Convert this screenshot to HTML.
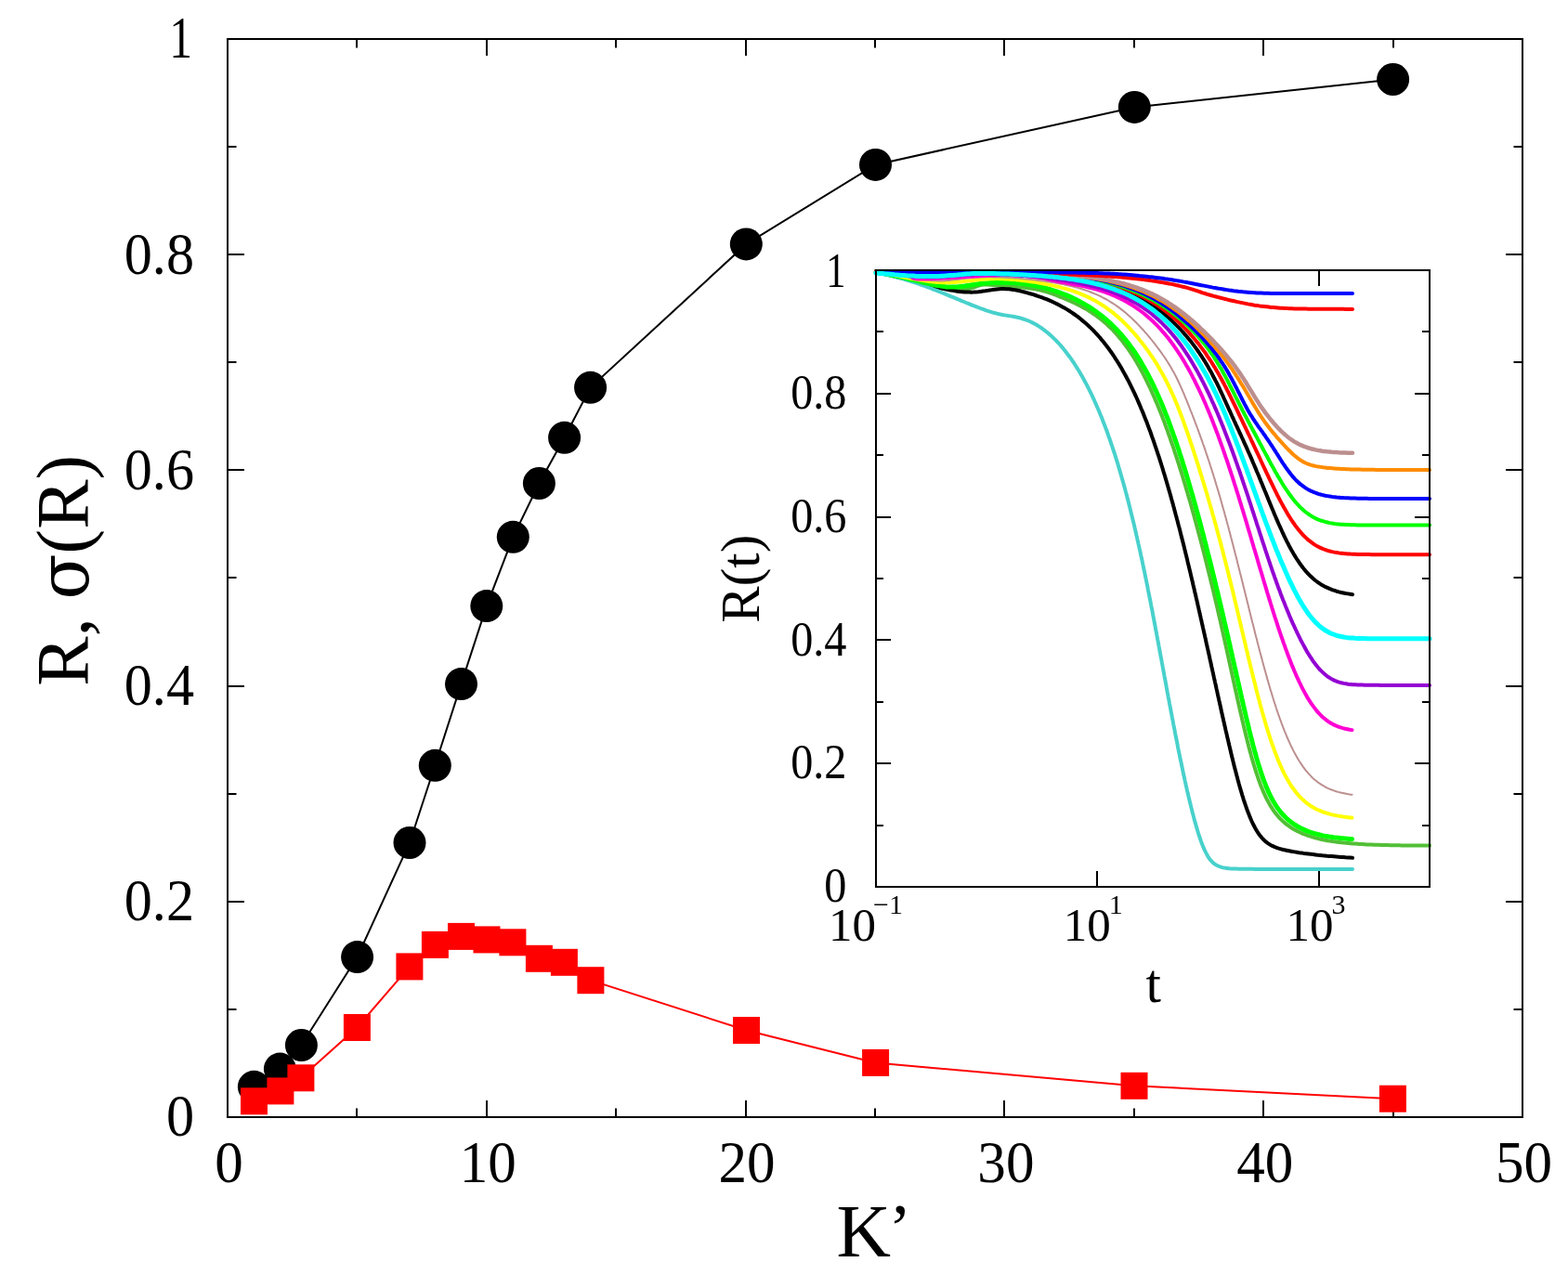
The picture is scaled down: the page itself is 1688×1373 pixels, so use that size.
<!DOCTYPE html><html><head><meta charset="utf-8"><style>html,body{margin:0;padding:0;background:#fff}svg{display:block}</style></head><body>
<svg width="1688" height="1373" viewBox="0 0 1688 1373">
<rect width="100%" height="100%" fill="#fff"/>
<path d="M384 1203v-9.5M384 42v9.5M524 1203v-18M524 42v18M663 1203v-9.5M663 42v9.5M803 1203v-18M803 42v18M942 1203v-9.5M942 42v9.5M1081 1203v-18M1081 42v18M1221 1203v-9.5M1221 42v9.5M1360 1203v-18M1360 42v18M1500 1203v-9.5M1500 42v9.5M245 1087h9.5M1639 1087h-9.5M245 971h18M1639 971h-18M245 855h9.5M1639 855h-9.5M245 739h18M1639 739h-18M245 622h9.5M1639 622h-9.5M245 506h18M1639 506h-18M245 390h9.5M1639 390h-9.5M245 274h18M1639 274h-18M245 158h9.5M1639 158h-9.5" stroke="#000" stroke-width="2" fill="none"/>
<polyline points="273.5,1185.8 301.9,1174.9 323.9,1160.8 384.4,1106.5 440.9,1040.9 468.4,1017.4 496.5,1008.4 524.0,1011.9 551.9,1014.8 580.4,1032.3 607.4,1036.3 635.9,1055.7 803.5,1109.5 942.6,1144.4 1221.0,1169.3 1499.4,1183.2" fill="none" stroke="#f00" stroke-width="2"/>
<polyline points="273.4,1170.3 301.4,1151.1 324.4,1125.5 384.6,1030.6 441.0,907.5 468.3,824.3 496.5,736.6 523.8,652.6 552.3,578.3 580.4,520.5 607.6,471.3 635.6,417.3 803.3,262.9 942.5,177.4 1221.3,115.4 1499.6,85.5" fill="none" stroke="#000" stroke-width="2"/>
<circle cx="273.4" cy="1170.3" r="17.5" fill="#000"/>
<circle cx="301.4" cy="1151.1" r="17.5" fill="#000"/>
<circle cx="324.4" cy="1125.5" r="17.5" fill="#000"/>
<circle cx="384.6" cy="1030.6" r="17.5" fill="#000"/>
<circle cx="441.0" cy="907.5" r="17.5" fill="#000"/>
<circle cx="468.3" cy="824.3" r="17.5" fill="#000"/>
<circle cx="496.5" cy="736.6" r="17.5" fill="#000"/>
<circle cx="523.8" cy="652.6" r="17.5" fill="#000"/>
<circle cx="552.3" cy="578.3" r="17.5" fill="#000"/>
<circle cx="580.4" cy="520.5" r="17.5" fill="#000"/>
<circle cx="607.6" cy="471.3" r="17.5" fill="#000"/>
<circle cx="635.6" cy="417.3" r="17.5" fill="#000"/>
<circle cx="803.3" cy="262.9" r="17.5" fill="#000"/>
<circle cx="942.5" cy="177.4" r="17.5" fill="#000"/>
<circle cx="1221.3" cy="115.4" r="17.5" fill="#000"/>
<circle cx="1499.6" cy="85.5" r="17.5" fill="#000"/>
<rect x="259.0" y="1171.3" width="29" height="29" fill="#f00"/>
<rect x="287.4" y="1160.4" width="29" height="29" fill="#f00"/>
<rect x="309.4" y="1146.3" width="29" height="29" fill="#f00"/>
<rect x="369.9" y="1092.0" width="29" height="29" fill="#f00"/>
<rect x="426.4" y="1026.4" width="29" height="29" fill="#f00"/>
<rect x="453.9" y="1002.9" width="29" height="29" fill="#f00"/>
<rect x="482.0" y="993.9" width="29" height="29" fill="#f00"/>
<rect x="509.5" y="997.4" width="29" height="29" fill="#f00"/>
<rect x="537.4" y="1000.3" width="29" height="29" fill="#f00"/>
<rect x="565.9" y="1017.8" width="29" height="29" fill="#f00"/>
<rect x="592.9" y="1021.8" width="29" height="29" fill="#f00"/>
<rect x="621.4" y="1041.2" width="29" height="29" fill="#f00"/>
<rect x="789.0" y="1095.0" width="29" height="29" fill="#f00"/>
<rect x="928.1" y="1129.9" width="29" height="29" fill="#f00"/>
<rect x="1206.5" y="1154.8" width="29" height="29" fill="#f00"/>
<rect x="1484.9" y="1168.7" width="29" height="29" fill="#f00"/>
<rect x="245" y="42" width="1394" height="1161" fill="none" stroke="#000" stroke-width="2"/>
<text transform="translate(246.5 1273.3) scale(0.97 1)" font-size="63" text-anchor="middle" font-family="Liberation Serif, Times New Roman, serif">0</text>
<text transform="translate(525.3 1273.3) scale(0.97 1)" font-size="63" text-anchor="middle" font-family="Liberation Serif, Times New Roman, serif">10</text>
<text transform="translate(804.1 1273.3) scale(0.97 1)" font-size="63" text-anchor="middle" font-family="Liberation Serif, Times New Roman, serif">20</text>
<text transform="translate(1082.9 1273.3) scale(0.97 1)" font-size="63" text-anchor="middle" font-family="Liberation Serif, Times New Roman, serif">30</text>
<text transform="translate(1361.7 1273.3) scale(0.97 1)" font-size="63" text-anchor="middle" font-family="Liberation Serif, Times New Roman, serif">40</text>
<text transform="translate(1640.5 1273.3) scale(0.97 1)" font-size="63" text-anchor="middle" font-family="Liberation Serif, Times New Roman, serif">50</text>
<text transform="translate(209 1223.4) scale(0.956 1)" font-size="63" text-anchor="end" font-family="Liberation Serif, Times New Roman, serif">0</text>
<text transform="translate(209 991.2) scale(0.956 1)" font-size="63" text-anchor="end" font-family="Liberation Serif, Times New Roman, serif">0.2</text>
<text transform="translate(209 759.0) scale(0.956 1)" font-size="63" text-anchor="end" font-family="Liberation Serif, Times New Roman, serif">0.4</text>
<text transform="translate(209 526.8) scale(0.956 1)" font-size="63" text-anchor="end" font-family="Liberation Serif, Times New Roman, serif">0.6</text>
<text transform="translate(209 294.6) scale(0.956 1)" font-size="63" text-anchor="end" font-family="Liberation Serif, Times New Roman, serif">0.8</text>
<text transform="translate(207.1 62.4) scale(0.786 1)" font-size="63" text-anchor="end" font-family="Liberation Serif, Times New Roman, serif">1</text>
<text x="900.6" y="1353" font-size="81" font-family="Liberation Serif, Times New Roman, serif">K<tspan dx="-2.6" dy="-4.9" font-size="74">’</tspan></text>
<g transform="translate(94.8 738.7) rotate(-90)"><text x="0" y="0" font-size="80" font-family="Liberation Serif, Times New Roman, serif">R, </text><text transform="translate(93.2 0) scale(0.945 1)" font-size="76" font-family="DejaVu Serif, Liberation Serif, serif">σ</text><text x="142.2" y="0" font-size="80" font-family="Liberation Serif, Times New Roman, serif">(R)</text></g>
<rect x="943" y="291" width="596" height="664" fill="#fff" stroke="none"/>
<path d="M1181 955v-17M1181 291v17M1420 955v-17M1420 291v17M943 889h8M1539 889h-8M943 822h16M1539 822h-16M943 756h8M1539 756h-8M943 689h16M1539 689h-16M943 623h8M1539 623h-8M943 557h16M1539 557h-16M943 490h8M1539 490h-8M943 424h16M1539 424h-16M943 357h8M1539 357h-8" stroke="#000" stroke-width="2" fill="none"/>
<defs><clipPath id="ic"><rect x="938" y="286" width="606" height="669"/></clipPath></defs><g clip-path="url(#ic)" fill="none" stroke-linejoin="round">
<path d="M943.0 293.1L945.5 293.6L947.9 294.1L950.4 294.5L952.8 295.0L955.3 295.6L957.7 296.1L960.2 296.6L962.6 297.1L965.0 297.7L967.5 298.2L969.9 298.8L972.4 299.3L974.8 299.9L977.2 300.5L979.7 301.0L982.1 301.6L984.6 302.2L987.0 302.7L989.4 303.3L991.9 303.8L994.3 304.3L996.8 304.9L999.2 305.4L1001.7 305.9L1004.1 306.4L1006.6 306.9L1009.0 307.3L1011.5 307.8L1014.0 308.2L1016.4 308.6L1018.9 309.0L1021.4 309.3L1023.9 309.7L1026.3 310.0L1028.8 310.3L1031.3 310.6L1033.8 310.8L1036.3 311.0L1038.8 311.0L1041.3 311.0L1043.8 310.7L1046.2 310.2L1048.6 309.5L1050.9 308.6L1053.3 307.7L1055.7 307.0L1058.2 306.6L1060.7 306.6L1063.2 306.6L1065.7 306.8L1068.2 306.9L1070.7 307.1L1073.2 307.3L1075.6 307.4L1078.1 307.6L1080.6 307.8L1083.1 308.0L1085.6 308.1L1088.1 308.3L1090.6 308.5L1093.1 308.8L1095.6 309.0L1098.1 309.2L1100.6 309.5L1103.1 309.8L1105.5 310.1L1108.0 310.4L1110.5 310.7L1113.0 311.1L1115.4 311.5L1117.9 312.0L1120.3 312.6L1122.8 313.2L1125.2 313.8L1127.6 314.6L1129.9 315.3L1132.3 316.2L1134.7 317.0L1137.0 317.9L1139.3 318.9L1141.6 319.8L1144.0 320.7L1146.3 321.7L1148.6 322.7L1150.9 323.7L1153.2 324.7L1155.4 325.7L1157.7 326.8L1159.9 327.9L1162.2 329.0L1164.4 330.2L1166.6 331.4L1168.7 332.6L1170.9 333.9L1173.0 335.2L1175.1 336.6L1177.2 338.0L1179.3 339.4L1181.3 340.9L1183.3 342.4L1185.3 343.9L1187.2 345.5L1189.1 347.1L1191.0 348.8L1192.8 350.5L1194.6 352.2L1196.4 353.9L1198.2 355.7L1199.9 357.6L1201.6 359.4L1203.2 361.3L1204.8 363.2L1206.4 365.1L1208.0 367.1L1209.5 369.0L1211.0 371.0L1212.5 373.1L1214.0 375.1L1215.4 377.1L1216.8 379.2L1218.2 381.3L1219.5 383.4L1220.9 385.5L1222.2 387.7L1223.5 389.8L1224.7 392.0L1226.0 394.1L1227.2 396.3L1228.4 398.5L1229.6 400.7L1230.7 402.9L1231.9 405.1L1233.0 407.4L1234.1 409.6L1235.2 411.9L1236.3 414.1L1237.4 416.4L1238.5 418.6L1239.5 420.9L1240.5 423.2L1241.5 425.5L1242.6 427.8L1243.5 430.1L1244.5 432.4L1245.5 434.7L1246.5 437.0L1247.4 439.3L1248.3 441.6L1249.3 444.0L1250.2 446.3L1251.1 448.6L1252.0 450.9L1252.9 453.3L1253.8 455.6L1254.6 458.0L1255.5 460.3L1256.4 462.7L1257.2 465.0L1258.0 467.4L1258.9 469.7L1259.7 472.1L1260.5 474.5L1261.3 476.8L1262.2 479.2L1263.0 481.6L1263.8 483.9L1264.5 486.3L1265.3 488.7L1266.1 491.1L1266.9 493.4L1267.6 495.8L1268.4 498.2L1269.2 500.6L1269.9 503.0L1270.7 505.4L1271.4 507.7L1272.2 510.1L1272.9 512.5L1273.6 514.9L1274.3 517.3L1275.1 519.7L1275.8 522.1L1276.5 524.5L1277.2 526.9L1277.9 529.3L1278.6 531.7L1279.3 534.1L1280.0 536.5L1280.7 538.9L1281.4 541.3L1282.1 543.7L1282.8 546.1L1283.4 548.5L1284.1 551.0L1284.8 553.4L1285.5 555.8L1286.1 558.2L1286.8 560.6L1287.4 563.0L1288.1 565.4L1288.7 567.8L1289.4 570.3L1290.0 572.7L1290.7 575.1L1291.3 577.5L1292.0 579.9L1292.6 582.3L1293.2 584.8L1293.9 587.2L1294.5 589.6L1295.1 592.0L1295.8 594.5L1296.4 596.9L1297.0 599.3L1297.6 601.7L1298.2 604.1L1298.8 606.6L1299.4 609.0L1300.0 611.4L1300.6 613.9L1301.2 616.3L1301.8 618.7L1302.4 621.1L1303.0 623.6L1303.6 626.0L1304.2 628.4L1304.8 630.9L1305.4 633.3L1306.0 635.7L1306.6 638.2L1307.1 640.6L1307.7 643.0L1308.3 645.5L1308.9 647.9L1309.4 650.3L1310.0 652.8L1310.6 655.2L1311.1 657.7L1311.7 660.1L1312.2 662.5L1312.8 665.0L1313.4 667.4L1313.9 669.8L1314.5 672.3L1315.0 674.7L1315.6 677.2L1316.1 679.6L1316.7 682.1L1317.2 684.5L1317.8 686.9L1318.3 689.4L1318.8 691.8L1319.4 694.3L1319.9 696.7L1320.5 699.1L1321.0 701.6L1321.5 704.0L1322.1 706.5L1322.6 708.9L1323.1 711.4L1323.7 713.8L1324.2 716.3L1324.7 718.7L1325.3 721.1L1325.8 723.6L1326.3 726.0L1326.9 728.5L1327.4 730.9L1327.9 733.4L1328.5 735.8L1329.0 738.3L1329.5 740.7L1330.1 743.1L1330.6 745.6L1331.2 748.0L1331.7 750.5L1332.2 752.9L1332.8 755.4L1333.3 757.8L1333.9 760.2L1334.4 762.7L1335.0 765.1L1335.5 767.6L1336.1 770.0L1336.7 772.4L1337.2 774.9L1337.8 777.3L1338.4 779.7L1338.9 782.2L1339.5 784.6L1340.1 787.0L1340.7 789.5L1341.3 791.9L1341.9 794.3L1342.5 796.8L1343.1 799.2L1343.7 801.6L1344.3 804.0L1345.0 806.5L1345.6 808.9L1346.3 811.3L1346.9 813.7L1347.6 816.1L1348.3 818.5L1349.0 820.9L1349.7 823.3L1350.4 825.7L1351.2 828.1L1351.9 830.5L1352.7 832.9L1353.5 835.2L1354.3 837.6L1355.1 840.0L1356.0 842.3L1356.8 844.7L1357.7 847.0L1358.7 849.3L1359.6 851.6L1360.6 853.9L1361.7 856.2L1362.7 858.5L1363.8 860.7L1365.0 862.9L1366.2 865.1L1367.4 867.3L1368.8 869.4L1370.1 871.5L1371.5 873.6L1373.0 875.6L1374.6 877.5L1376.2 879.4L1377.9 881.3L1379.7 883.1L1381.5 884.8L1383.4 886.4L1385.3 888.0L1387.4 889.4L1389.4 890.9L1391.5 892.2L1393.7 893.5L1395.9 894.6L1398.1 895.7L1400.4 896.8L1402.7 897.8L1405.0 898.7L1407.4 899.6L1409.8 900.4L1412.1 901.1L1414.5 901.8L1417.0 902.5L1419.4 903.1L1421.8 903.7L1424.3 904.2L1426.7 904.7L1429.2 905.2L1431.6 905.6L1434.1 906.0L1436.6 906.3L1439.1 906.7L1441.5 907.0L1444.0 907.3L1446.5 907.6L1449.0 907.8L1451.5 908.0L1454.0 908.2L1456.5 908.4L1459.0 908.6L1461.5 908.8L1464.0 909.0L1466.5 909.1L1469.0 909.2L1471.5 909.4L1474.0 909.5L1476.5 909.6L1479.0 909.7L1481.5 909.8L1484.0 909.8L1486.5 909.9L1489.0 910.0L1491.5 910.0L1494.0 910.1L1496.5 910.2L1499.0 910.2L1501.5 910.3L1504.0 910.3L1506.5 910.3L1509.0 910.4L1511.5 910.4L1514.0 910.4L1516.5 910.5L1519.0 910.5L1521.5 910.5L1524.0 910.5L1526.5 910.6L1529.0 910.6L1531.5 910.6L1534.0 910.6L1536.5 910.6L1539.0 910.6" stroke="#52bf36" stroke-width="4" stroke-linecap="round"/>
<path d="M943.0 293.1L945.5 293.6L947.9 294.1L950.3 294.7L952.8 295.2L955.2 295.8L957.7 296.3L960.1 296.9L962.5 297.5L965.0 298.1L967.4 298.7L969.8 299.3L972.3 299.9L974.7 300.5L977.1 301.2L979.5 301.8L982.0 302.4L984.4 303.1L986.8 303.7L989.2 304.4L991.6 305.0L994.1 305.6L996.5 306.3L998.9 306.9L1001.3 307.5L1003.8 308.1L1006.2 308.7L1008.6 309.3L1011.1 309.9L1013.5 310.5L1016.0 311.0L1018.4 311.5L1020.9 312.0L1023.3 312.5L1025.8 312.9L1028.3 313.3L1030.7 313.7L1033.2 314.0L1035.7 314.2L1038.2 314.4L1040.7 314.6L1043.2 314.6L1045.7 314.7L1048.2 314.6L1050.7 314.4L1053.2 314.2L1055.7 313.9L1058.2 313.6L1060.7 313.3L1063.1 312.9L1065.6 312.5L1068.1 312.1L1070.6 311.8L1073.1 311.5L1075.6 311.2L1078.1 311.1L1080.6 311.1L1083.1 311.2L1085.6 311.3L1088.0 311.6L1090.5 311.9L1093.0 312.3L1095.5 312.8L1097.9 313.3L1100.3 313.9L1102.8 314.5L1105.2 315.1L1107.6 315.8L1110.0 316.5L1112.4 317.2L1114.8 318.0L1117.2 318.8L1119.5 319.6L1121.9 320.4L1124.2 321.3L1126.6 322.2L1128.9 323.2L1131.2 324.2L1133.5 325.2L1135.7 326.3L1138.0 327.4L1140.2 328.5L1142.4 329.7L1144.6 330.9L1146.8 332.1L1148.9 333.4L1151.1 334.8L1153.2 336.1L1155.2 337.5L1157.3 339.0L1159.3 340.4L1161.3 341.9L1163.3 343.5L1165.2 345.1L1167.1 346.7L1169.0 348.3L1170.9 350.0L1172.7 351.7L1174.5 353.4L1176.3 355.2L1178.1 357.0L1179.8 358.8L1181.5 360.7L1183.1 362.5L1184.8 364.4L1186.4 366.4L1188.0 368.3L1189.5 370.2L1191.1 372.2L1192.6 374.2L1194.1 376.2L1195.5 378.3L1197.0 380.3L1198.4 382.4L1199.8 384.5L1201.1 386.6L1202.5 388.7L1203.8 390.8L1205.1 392.9L1206.4 395.1L1207.7 397.3L1208.9 399.4L1210.1 401.6L1211.3 403.8L1212.5 406.0L1213.7 408.2L1214.9 410.4L1216.0 412.7L1217.1 414.9L1218.2 417.2L1219.3 419.4L1220.4 421.7L1221.5 423.9L1222.5 426.2L1223.6 428.5L1224.6 430.8L1225.6 433.1L1226.6 435.4L1227.6 437.7L1228.5 440.0L1229.5 442.3L1230.5 444.6L1231.4 446.9L1232.3 449.3L1233.2 451.6L1234.2 453.9L1235.1 456.3L1235.9 458.6L1236.8 460.9L1237.7 463.3L1238.6 465.6L1239.4 468.0L1240.2 470.4L1241.1 472.7L1241.9 475.1L1242.7 477.4L1243.5 479.8L1244.3 482.2L1245.1 484.6L1245.9 486.9L1246.7 489.3L1247.5 491.7L1248.3 494.1L1249.0 496.5L1249.8 498.9L1250.5 501.2L1251.3 503.6L1252.0 506.0L1252.7 508.4L1253.5 510.8L1254.2 513.2L1254.9 515.6L1255.6 518.0L1256.3 520.4L1257.0 522.8L1257.7 525.2L1258.4 527.6L1259.1 530.0L1259.8 532.5L1260.5 534.9L1261.1 537.3L1261.8 539.7L1262.5 542.1L1263.1 544.5L1263.8 546.9L1264.4 549.4L1265.1 551.8L1265.7 554.2L1266.4 556.6L1267.0 559.0L1267.7 561.5L1268.3 563.9L1268.9 566.3L1269.6 568.7L1270.2 571.1L1270.8 573.6L1271.4 576.0L1272.0 578.4L1272.7 580.9L1273.3 583.3L1273.9 585.7L1274.5 588.1L1275.1 590.6L1275.7 593.0L1276.3 595.4L1276.9 597.9L1277.5 600.3L1278.1 602.7L1278.6 605.2L1279.2 607.6L1279.8 610.0L1280.4 612.5L1281.0 614.9L1281.6 617.3L1282.1 619.8L1282.7 622.2L1283.3 624.7L1283.9 627.1L1284.4 629.5L1285.0 632.0L1285.6 634.4L1286.1 636.9L1286.7 639.3L1287.3 641.7L1287.8 644.2L1288.4 646.6L1289.0 649.1L1289.5 651.5L1290.1 653.9L1290.6 656.4L1291.2 658.8L1291.7 661.3L1292.3 663.7L1292.8 666.2L1293.4 668.6L1293.9 671.0L1294.5 673.5L1295.0 675.9L1295.6 678.4L1296.1 680.8L1296.7 683.3L1297.2 685.7L1297.8 688.1L1298.3 690.6L1298.8 693.0L1299.4 695.5L1299.9 697.9L1300.5 700.4L1301.0 702.8L1301.6 705.3L1302.1 707.7L1302.6 710.2L1303.2 712.6L1303.7 715.0L1304.2 717.5L1304.8 719.9L1305.3 722.4L1305.9 724.8L1306.4 727.3L1306.9 729.7L1307.5 732.2L1308.0 734.6L1308.6 737.1L1309.1 739.5L1309.6 741.9L1310.2 744.4L1310.7 746.8L1311.2 749.3L1311.8 751.7L1312.3 754.2L1312.9 756.6L1313.4 759.1L1314.0 761.5L1314.5 764.0L1315.0 766.4L1315.6 768.8L1316.1 771.3L1316.7 773.7L1317.2 776.2L1317.8 778.6L1318.3 781.1L1318.9 783.5L1319.4 785.9L1320.0 788.4L1320.6 790.8L1321.1 793.3L1321.7 795.7L1322.3 798.1L1322.8 800.6L1323.4 803.0L1324.0 805.5L1324.6 807.9L1325.1 810.3L1325.7 812.8L1326.3 815.2L1326.9 817.6L1327.5 820.1L1328.1 822.5L1328.7 824.9L1329.3 827.4L1330.0 829.8L1330.6 832.2L1331.2 834.6L1331.9 837.0L1332.5 839.5L1333.2 841.9L1333.8 844.3L1334.5 846.7L1335.2 849.1L1335.9 851.5L1336.6 853.9L1337.3 856.3L1338.1 858.7L1338.8 861.1L1339.6 863.5L1340.4 865.9L1341.2 868.2L1342.0 870.6L1342.9 872.9L1343.8 875.3L1344.7 877.6L1345.6 879.9L1346.6 882.2L1347.6 884.5L1348.7 886.8L1349.8 889.0L1351.0 891.3L1352.2 893.4L1353.5 895.6L1354.9 897.7L1356.4 899.7L1357.9 901.6L1359.6 903.5L1361.4 905.2L1363.3 906.9L1365.3 908.3L1367.4 909.7L1369.7 910.9L1371.9 911.9L1374.3 912.8L1376.6 913.6L1379.0 914.3L1381.5 915.0L1383.9 915.5L1386.3 916.0L1388.8 916.5L1391.3 917.0L1393.7 917.4L1396.2 917.8L1398.7 918.2L1401.2 918.5L1403.6 918.9L1406.1 919.2L1408.6 919.5L1411.1 919.8L1413.6 920.1L1416.1 920.4L1418.6 920.7L1421.1 920.9L1423.5 921.2L1426.0 921.4L1428.5 921.7L1431.0 921.9L1433.5 922.1L1436.0 922.3L1438.5 922.5L1441.0 922.7L1443.5 922.9L1446.0 923.1L1448.5 923.3L1451.0 923.4L1453.5 923.6L1456.0 923.8" stroke="#000" stroke-width="4" stroke-linecap="round"/>
<path d="M943.0 293.4L945.5 293.9L947.9 294.4L950.4 294.9L952.8 295.4L955.3 296.0L957.7 296.5L960.1 297.1L962.6 297.7L965.0 298.3L967.4 299.0L969.8 299.7L972.2 300.3L974.6 301.0L977.0 301.8L979.4 302.5L981.8 303.3L984.2 304.1L986.6 304.9L988.9 305.7L991.3 306.5L993.6 307.3L996.0 308.2L998.3 309.1L1000.7 310.0L1003.0 310.9L1005.3 311.8L1007.7 312.7L1010.0 313.6L1012.3 314.5L1014.6 315.5L1017.0 316.4L1019.3 317.4L1021.6 318.3L1023.9 319.3L1026.2 320.2L1028.5 321.2L1030.9 322.2L1033.2 323.1L1035.5 324.1L1037.8 325.0L1040.1 326.0L1042.4 326.9L1044.8 327.8L1047.1 328.8L1049.4 329.7L1051.8 330.6L1054.1 331.5L1056.4 332.4L1058.8 333.2L1061.1 334.1L1063.5 334.9L1065.9 335.6L1068.3 336.4L1070.7 337.0L1073.1 337.6L1075.6 338.2L1078.0 338.7L1080.5 339.2L1083.0 339.6L1085.4 340.0L1087.9 340.4L1090.4 340.8L1092.8 341.2L1095.3 341.8L1097.7 342.3L1100.1 343.0L1102.5 343.8L1104.9 344.6L1107.2 345.5L1109.5 346.5L1111.7 347.6L1114.0 348.8L1116.1 350.0L1118.3 351.4L1120.4 352.7L1122.4 354.2L1124.4 355.6L1126.4 357.2L1128.3 358.8L1130.2 360.4L1132.1 362.1L1133.9 363.8L1135.7 365.6L1137.5 367.3L1139.2 369.2L1140.9 371.0L1142.5 372.9L1144.1 374.8L1145.7 376.7L1147.3 378.7L1148.8 380.7L1150.3 382.7L1151.8 384.7L1153.2 386.7L1154.7 388.8L1156.1 390.9L1157.4 393.0L1158.8 395.1L1160.1 397.2L1161.4 399.3L1162.7 401.5L1164.0 403.7L1165.2 405.8L1166.4 408.0L1167.6 410.2L1168.8 412.4L1170.0 414.6L1171.1 416.9L1172.3 419.1L1173.4 421.3L1174.5 423.6L1175.6 425.8L1176.6 428.1L1177.7 430.4L1178.7 432.7L1179.7 434.9L1180.7 437.2L1181.7 439.5L1182.7 441.8L1183.7 444.1L1184.6 446.5L1185.6 448.8L1186.5 451.1L1187.4 453.4L1188.3 455.8L1189.2 458.1L1190.1 460.4L1191.0 462.8L1191.9 465.1L1192.7 467.5L1193.5 469.9L1194.4 472.2L1195.2 474.6L1196.0 477.0L1196.8 479.3L1197.6 481.7L1198.4 484.1L1199.2 486.5L1200.0 488.8L1200.7 491.2L1201.5 493.6L1202.2 496.0L1203.0 498.4L1203.7 500.8L1204.4 503.2L1205.1 505.6L1205.8 508.0L1206.5 510.4L1207.2 512.8L1207.9 515.2L1208.6 517.6L1209.3 520.0L1209.9 522.4L1210.6 524.8L1211.3 527.3L1211.9 529.7L1212.6 532.1L1213.2 534.5L1213.8 536.9L1214.5 539.4L1215.1 541.8L1215.7 544.2L1216.3 546.6L1216.9 549.1L1217.5 551.5L1218.1 553.9L1218.7 556.4L1219.3 558.8L1219.9 561.2L1220.5 563.7L1221.1 566.1L1221.6 568.5L1222.2 571.0L1222.8 573.4L1223.3 575.9L1223.9 578.3L1224.4 580.7L1225.0 583.2L1225.5 585.6L1226.1 588.1L1226.6 590.5L1227.2 593.0L1227.7 595.4L1228.2 597.9L1228.8 600.3L1229.3 602.7L1229.8 605.2L1230.3 607.6L1230.8 610.1L1231.3 612.5L1231.9 615.0L1232.4 617.5L1232.9 619.9L1233.4 622.4L1233.9 624.8L1234.4 627.3L1234.9 629.7L1235.4 632.2L1235.8 634.6L1236.3 637.1L1236.8 639.5L1237.3 642.0L1237.8 644.5L1238.3 646.9L1238.8 649.4L1239.2 651.8L1239.7 654.3L1240.2 656.7L1240.7 659.2L1241.1 661.7L1241.6 664.1L1242.1 666.6L1242.5 669.0L1243.0 671.5L1243.5 674.0L1243.9 676.4L1244.4 678.9L1244.9 681.3L1245.3 683.8L1245.8 686.3L1246.2 688.7L1246.7 691.2L1247.2 693.6L1247.6 696.1L1248.1 698.6L1248.5 701.0L1249.0 703.5L1249.4 706.0L1249.9 708.4L1250.4 710.9L1250.8 713.3L1251.3 715.8L1251.7 718.3L1252.2 720.7L1252.6 723.2L1253.1 725.6L1253.5 728.1L1254.0 730.6L1254.5 733.0L1254.9 735.5L1255.4 738.0L1255.8 740.4L1256.3 742.9L1256.7 745.3L1257.2 747.8L1257.6 750.3L1258.1 752.7L1258.6 755.2L1259.0 757.6L1259.5 760.1L1260.0 762.6L1260.4 765.0L1260.9 767.5L1261.4 770.0L1261.8 772.4L1262.3 774.9L1262.8 777.3L1263.2 779.8L1263.7 782.2L1264.2 784.7L1264.7 787.2L1265.1 789.6L1265.6 792.1L1266.1 794.5L1266.6 797.0L1267.1 799.4L1267.6 801.9L1268.0 804.4L1268.5 806.8L1269.0 809.3L1269.5 811.7L1270.0 814.2L1270.5 816.6L1271.0 819.1L1271.6 821.5L1272.1 824.0L1272.6 826.4L1273.1 828.9L1273.6 831.3L1274.1 833.8L1274.7 836.2L1275.2 838.7L1275.7 841.1L1276.3 843.6L1276.8 846.0L1277.4 848.4L1277.9 850.9L1278.5 853.3L1279.1 855.8L1279.6 858.2L1280.2 860.6L1280.8 863.1L1281.4 865.5L1282.0 867.9L1282.6 870.4L1283.2 872.8L1283.8 875.2L1284.5 877.6L1285.1 880.1L1285.7 882.5L1286.4 884.9L1287.1 887.3L1287.8 889.7L1288.5 892.1L1289.2 894.5L1289.9 896.9L1290.7 899.3L1291.5 901.7L1292.3 904.0L1293.1 906.4L1294.0 908.7L1294.9 911.1L1295.9 913.4L1296.9 915.7L1298.0 917.9L1299.2 920.1L1300.4 922.3L1301.8 924.4L1303.4 926.4L1305.0 928.2L1306.9 929.9L1308.9 931.3L1311.2 932.5L1313.5 933.4L1315.9 934.1L1318.3 934.6L1320.8 934.9L1323.3 935.2L1325.8 935.4L1328.3 935.5L1330.8 935.6L1333.3 935.7L1335.8 935.7L1338.3 935.8L1340.8 935.8L1343.3 935.8L1345.8 935.8L1348.3 935.8L1350.8 935.9L1353.3 935.9L1355.8 935.9L1358.4 935.9L1360.9 935.9L1363.4 935.9L1365.9 935.9L1368.4 935.9L1370.9 935.9L1373.4 935.9L1375.9 935.9L1378.4 935.9L1380.9 935.9L1383.4 935.9L1385.9 935.9L1388.4 935.9L1390.9 935.9L1393.4 935.9L1395.9 935.9L1398.4 935.9L1400.9 935.9L1403.4 935.9L1405.9 935.9L1408.4 935.9L1410.9 935.9L1413.4 935.9L1415.9 935.9L1418.4 935.9L1420.9 935.9L1423.5 935.9L1426.0 935.9L1428.5 935.9L1431.0 935.9L1433.5 935.9L1436.0 935.9L1438.5 935.9L1441.0 935.9L1443.5 935.9L1446.0 935.9L1448.5 935.9L1451.0 935.9L1453.5 935.9L1456.0 935.9" stroke="#48d1cc" stroke-width="4" stroke-linecap="round"/>
<path d="M943.0 293.1L945.5 293.5L947.9 294.0L950.4 294.4L952.9 294.8L955.3 295.3L957.8 295.8L960.2 296.3L962.7 296.8L965.1 297.3L967.6 297.8L970.0 298.4L972.4 298.9L974.9 299.5L977.3 300.1L979.7 300.7L982.2 301.2L984.6 301.8L987.0 302.4L989.5 303.0L991.9 303.6L994.3 304.2L996.8 304.8L999.2 305.4L1001.6 305.9L1004.1 306.5L1006.5 307.0L1009.0 307.5L1011.4 307.9L1013.9 308.3L1016.4 308.6L1018.9 308.9L1021.4 309.0L1023.9 309.1L1026.4 309.1L1028.9 309.0L1031.4 308.8L1033.9 308.5L1036.3 308.2L1038.8 307.9L1041.3 307.5L1043.8 307.1L1046.2 306.7L1048.7 306.4L1051.2 306.0L1053.7 305.7L1056.1 305.4L1058.6 305.1L1061.1 304.9L1063.6 304.7L1066.1 304.6L1068.6 304.4L1071.1 304.3L1073.6 304.3L1076.1 304.2L1078.6 304.2L1081.1 304.2L1083.6 304.3L1086.1 304.4L1088.6 304.5L1091.1 304.6L1093.6 304.8L1096.1 305.1L1098.6 305.3L1101.1 305.6L1103.6 305.9L1106.0 306.2L1108.5 306.6L1111.0 307.0L1113.4 307.5L1115.9 308.0L1118.3 308.5L1120.8 309.1L1123.2 309.6L1125.6 310.3L1128.0 310.9L1130.4 311.6L1132.8 312.4L1135.2 313.1L1137.6 313.9L1139.9 314.7L1142.3 315.6L1144.6 316.5L1147.0 317.4L1149.3 318.4L1151.6 319.4L1153.8 320.4L1156.1 321.5L1158.3 322.6L1160.6 323.7L1162.8 324.9L1165.0 326.1L1167.2 327.3L1169.3 328.6L1171.5 329.9L1173.6 331.2L1175.7 332.6L1177.7 334.0L1179.8 335.4L1181.8 336.9L1183.8 338.4L1185.8 339.9L1187.7 341.5L1189.7 343.1L1191.6 344.7L1193.4 346.4L1195.3 348.0L1197.1 349.8L1198.9 351.5L1200.6 353.3L1202.4 355.1L1204.1 356.9L1205.8 358.8L1207.4 360.7L1209.0 362.6L1210.6 364.5L1212.2 366.4L1213.7 368.4L1215.3 370.4L1216.7 372.4L1218.2 374.4L1219.7 376.5L1221.1 378.5L1222.5 380.6L1223.8 382.7L1225.2 384.8L1226.5 386.9L1227.8 389.1L1229.1 391.2L1230.3 393.4L1231.6 395.6L1232.8 397.7L1234.0 399.9L1235.2 402.1L1236.4 404.3L1237.5 406.6L1238.6 408.8L1239.8 411.0L1240.9 413.3L1242.0 415.5L1243.0 417.8L1244.1 420.1L1245.1 422.3L1246.1 424.6L1247.2 426.9L1248.2 429.2L1249.2 431.5L1250.1 433.8L1251.1 436.1L1252.1 438.4L1253.0 440.7L1253.9 443.0L1254.8 445.4L1255.8 447.7L1256.7 450.0L1257.6 452.4L1258.4 454.7L1259.3 457.1L1260.2 459.4L1261.0 461.8L1261.9 464.1L1262.7 466.5L1263.5 468.8L1264.4 471.2L1265.2 473.6L1266.0 475.9L1266.8 478.3L1267.6 480.7L1268.4 483.0L1269.2 485.4L1269.9 487.8L1270.7 490.2L1271.5 492.5L1272.2 494.9L1273.0 497.3L1273.7 499.7L1274.5 502.1L1275.2 504.5L1275.9 506.9L1276.7 509.3L1277.4 511.7L1278.1 514.1L1278.8 516.5L1279.5 518.9L1280.2 521.3L1280.9 523.7L1281.6 526.1L1282.3 528.5L1283.0 530.9L1283.7 533.3L1284.4 535.7L1285.1 538.1L1285.7 540.5L1286.4 542.9L1287.1 545.3L1287.7 547.7L1288.4 550.1L1289.1 552.6L1289.7 555.0L1290.4 557.4L1291.0 559.8L1291.7 562.2L1292.3 564.6L1292.9 567.0L1293.6 569.5L1294.2 571.9L1294.9 574.3L1295.5 576.7L1296.1 579.1L1296.7 581.6L1297.4 584.0L1298.0 586.4L1298.6 588.8L1299.2 591.3L1299.8 593.7L1300.4 596.1L1301.1 598.5L1301.7 601.0L1302.3 603.4L1302.9 605.8L1303.5 608.2L1304.1 610.7L1304.7 613.1L1305.3 615.5L1305.9 618.0L1306.5 620.4L1307.1 622.8L1307.7 625.2L1308.2 627.7L1308.8 630.1L1309.4 632.5L1310.0 635.0L1310.6 637.4L1311.2 639.8L1311.8 642.3L1312.3 644.7L1312.9 647.1L1313.5 649.6L1314.1 652.0L1314.6 654.4L1315.2 656.9L1315.8 659.3L1316.3 661.7L1316.9 664.2L1317.5 666.6L1318.0 669.1L1318.6 671.5L1319.2 673.9L1319.7 676.4L1320.3 678.8L1320.9 681.2L1321.4 683.7L1322.0 686.1L1322.5 688.6L1323.1 691.0L1323.6 693.4L1324.2 695.9L1324.7 698.3L1325.3 700.8L1325.8 703.2L1326.4 705.6L1326.9 708.1L1327.5 710.5L1328.0 713.0L1328.6 715.4L1329.1 717.8L1329.7 720.3L1330.2 722.7L1330.8 725.2L1331.3 727.6L1331.9 730.0L1332.4 732.5L1333.0 734.9L1333.5 737.4L1334.1 739.8L1334.6 742.2L1335.2 744.7L1335.7 747.1L1336.3 749.6L1336.8 752.0L1337.4 754.4L1338.0 756.9L1338.5 759.3L1339.1 761.7L1339.6 764.2L1340.2 766.6L1340.8 769.1L1341.3 771.5L1341.9 773.9L1342.5 776.4L1343.1 778.8L1343.7 781.2L1344.2 783.7L1344.8 786.1L1345.4 788.5L1346.0 790.9L1346.6 793.4L1347.3 795.8L1347.9 798.2L1348.5 800.6L1349.1 803.1L1349.8 805.5L1350.4 807.9L1351.1 810.3L1351.8 812.7L1352.4 815.1L1353.1 817.5L1353.8 819.9L1354.5 822.3L1355.3 824.7L1356.0 827.1L1356.8 829.5L1357.6 831.9L1358.4 834.2L1359.2 836.6L1360.0 839.0L1360.9 841.3L1361.8 843.6L1362.7 846.0L1363.6 848.3L1364.6 850.6L1365.6 852.9L1366.7 855.1L1367.8 857.4L1368.9 859.6L1370.1 861.8L1371.4 864.0L1372.7 866.1L1374.0 868.2L1375.4 870.3L1376.9 872.3L1378.5 874.3L1380.1 876.2L1381.8 878.0L1383.5 879.8L1385.3 881.5L1387.2 883.2L1389.2 884.7L1391.2 886.2L1393.2 887.7L1395.3 889.0L1397.5 890.3L1399.7 891.5L1401.9 892.6L1404.2 893.6L1406.5 894.6L1408.8 895.5L1411.2 896.3L1413.6 897.1L1416.0 897.8L1418.4 898.4L1420.8 899.0L1423.3 899.6L1425.7 900.1L1428.2 900.5L1430.6 901.0L1433.1 901.3L1435.6 901.7L1438.1 902.0L1440.6 902.3L1443.0 902.6L1445.5 902.8L1448.0 903.0L1450.5 903.2L1453.0 903.4L1455.5 903.6" stroke="#00ff00" stroke-width="5" stroke-linecap="round"/>
<path d="M943.0 293.0L945.5 293.4L947.9 293.8L950.4 294.2L952.9 294.7L955.4 295.1L957.8 295.5L960.3 296.0L962.8 296.4L965.2 296.9L967.7 297.4L970.1 297.9L972.6 298.3L975.1 298.8L977.5 299.3L980.0 299.7L982.4 300.2L984.9 300.6L987.4 301.1L989.9 301.5L992.3 301.9L994.8 302.3L997.3 302.6L999.8 302.9L1002.3 303.2L1004.8 303.5L1007.2 303.7L1009.7 303.9L1012.2 304.1L1014.8 304.2L1017.3 304.2L1019.8 304.3L1022.3 304.2L1024.8 304.1L1027.3 304.0L1029.8 303.8L1032.3 303.6L1034.8 303.4L1037.3 303.1L1039.7 302.8L1042.2 302.5L1044.7 302.2L1047.2 301.9L1049.7 301.6L1052.2 301.3L1054.7 301.1L1057.2 300.8L1059.7 300.6L1062.2 300.4L1064.7 300.3L1067.2 300.2L1069.7 300.2L1072.2 300.1L1074.7 300.1L1077.2 300.2L1079.7 300.3L1082.2 300.4L1084.7 300.5L1087.2 300.7L1089.7 300.9L1092.2 301.1L1094.7 301.4L1097.2 301.6L1099.7 301.9L1102.2 302.2L1104.7 302.5L1107.1 302.8L1109.6 303.2L1112.1 303.5L1114.6 303.9L1117.1 304.3L1119.5 304.7L1122.0 305.2L1124.5 305.6L1126.9 306.1L1129.4 306.6L1131.8 307.1L1134.3 307.6L1136.7 308.2L1139.2 308.8L1141.6 309.4L1144.0 310.1L1146.4 310.7L1148.8 311.4L1151.2 312.2L1153.6 312.9L1156.0 313.7L1158.3 314.6L1160.7 315.4L1163.0 316.3L1165.4 317.3L1167.7 318.3L1169.9 319.3L1172.2 320.4L1174.4 321.5L1176.7 322.7L1178.9 323.8L1181.1 325.1L1183.2 326.4L1185.3 327.7L1187.4 329.0L1189.5 330.4L1191.6 331.9L1193.6 333.3L1195.6 334.8L1197.6 336.4L1199.5 338.0L1201.5 339.6L1203.4 341.2L1205.2 342.9L1207.1 344.6L1208.9 346.3L1210.7 348.0L1212.5 349.8L1214.2 351.6L1215.9 353.4L1217.6 355.3L1219.3 357.1L1221.0 359.0L1222.6 360.9L1224.2 362.8L1225.8 364.8L1227.4 366.7L1229.0 368.7L1230.5 370.7L1232.0 372.6L1233.5 374.7L1235.0 376.7L1236.4 378.7L1237.9 380.8L1239.3 382.8L1240.7 384.9L1242.1 387.0L1243.4 389.1L1244.8 391.2L1246.1 393.4L1247.4 395.5L1248.6 397.7L1249.9 399.9L1251.1 402.0L1252.3 404.2L1253.5 406.4L1254.7 408.7L1255.8 410.9L1256.9 413.1L1258.0 415.4L1259.1 417.6L1260.2 419.9L1261.2 422.2L1262.3 424.5L1263.3 426.8L1264.3 429.1L1265.2 431.4L1266.2 433.7L1267.2 436.0L1268.1 438.3L1269.0 440.7L1269.9 443.0L1270.8 445.3L1271.7 447.7L1272.6 450.0L1273.5 452.4L1274.3 454.7L1275.2 457.1L1276.0 459.5L1276.8 461.8L1277.7 464.2L1278.5 466.5L1279.3 468.9L1280.1 471.3L1280.9 473.7L1281.7 476.0L1282.5 478.4L1283.3 480.8L1284.1 483.2L1284.9 485.6L1285.6 487.9L1286.4 490.3L1287.2 492.7L1287.9 495.1L1288.7 497.5L1289.5 499.9L1290.2 502.3L1291.0 504.7L1291.7 507.1L1292.4 509.4L1293.2 511.8L1293.9 514.2L1294.6 516.6L1295.4 519.0L1296.1 521.4L1296.8 523.8L1297.5 526.2L1298.3 528.6L1299.0 531.0L1299.7 533.4L1300.4 535.8L1301.1 538.2L1301.8 540.7L1302.5 543.1L1303.2 545.5L1303.9 547.9L1304.6 550.3L1305.2 552.7L1305.9 555.1L1306.6 557.5L1307.3 559.9L1307.9 562.4L1308.6 564.8L1309.3 567.2L1309.9 569.6L1310.6 572.0L1311.2 574.4L1311.9 576.9L1312.5 579.3L1313.2 581.7L1313.8 584.1L1314.5 586.6L1315.1 589.0L1315.7 591.4L1316.4 593.8L1317.0 596.3L1317.6 598.7L1318.2 601.1L1318.9 603.5L1319.5 606.0L1320.1 608.4L1320.7 610.8L1321.3 613.3L1321.9 615.7L1322.5 618.1L1323.1 620.6L1323.7 623.0L1324.3 625.4L1324.9 627.9L1325.5 630.3L1326.1 632.7L1326.7 635.2L1327.3 637.6L1327.9 640.0L1328.5 642.5L1329.0 644.9L1329.6 647.3L1330.2 649.8L1330.8 652.2L1331.4 654.7L1331.9 657.1L1332.5 659.5L1333.1 662.0L1333.7 664.4L1334.2 666.9L1334.8 669.3L1335.4 671.7L1336.0 674.2L1336.5 676.6L1337.1 679.1L1337.7 681.5L1338.3 683.9L1338.8 686.4L1339.4 688.8L1340.0 691.2L1340.6 693.7L1341.1 696.1L1341.7 698.6L1342.3 701.0L1342.9 703.4L1343.4 705.9L1344.0 708.3L1344.6 710.8L1345.2 713.2L1345.8 715.6L1346.4 718.1L1347.0 720.5L1347.6 722.9L1348.2 725.4L1348.7 727.8L1349.4 730.2L1350.0 732.7L1350.6 735.1L1351.2 737.5L1351.8 740.0L1352.4 742.4L1353.0 744.8L1353.6 747.2L1354.3 749.7L1354.9 752.1L1355.6 754.5L1356.2 756.9L1356.8 759.4L1357.5 761.8L1358.2 764.2L1358.8 766.6L1359.5 769.0L1360.2 771.4L1360.9 773.8L1361.6 776.2L1362.3 778.7L1363.0 781.1L1363.7 783.5L1364.5 785.9L1365.2 788.2L1366.0 790.6L1366.7 793.0L1367.5 795.4L1368.3 797.8L1369.1 800.2L1369.9 802.5L1370.8 804.9L1371.6 807.2L1372.5 809.6L1373.4 811.9L1374.3 814.3L1375.2 816.6L1376.1 818.9L1377.1 821.2L1378.1 823.5L1379.1 825.8L1380.1 828.1L1381.2 830.4L1382.3 832.6L1383.5 834.9L1384.6 837.1L1385.9 839.3L1387.1 841.4L1388.4 843.6L1389.7 845.7L1391.1 847.8L1392.6 849.8L1394.1 851.8L1395.6 853.8L1397.2 855.7L1398.9 857.6L1400.6 859.4L1402.4 861.1L1404.3 862.8L1406.2 864.4L1408.2 865.9L1410.3 867.4L1412.4 868.7L1414.6 870.0L1416.8 871.2L1419.0 872.2L1421.3 873.2L1423.7 874.2L1426.0 875.0L1428.4 875.7L1430.8 876.4L1433.2 877.1L1435.7 877.6L1438.1 878.1L1440.6 878.6L1443.1 879.0L1445.6 879.4L1448.0 879.8L1450.5 880.1L1453.0 880.4L1455.5 880.6" stroke="#ffff00" stroke-width="4" stroke-linecap="round"/>
<path d="M943.0 293.0L945.5 293.3L948.0 293.6L950.5 293.9L952.9 294.3L955.4 294.6L957.9 295.0L960.4 295.3L962.8 295.7L965.3 296.1L967.8 296.5L970.3 296.9L972.7 297.3L975.2 297.8L977.7 298.2L980.1 298.6L982.6 299.0L985.1 299.5L987.5 299.9L990.0 300.3L992.5 300.7L995.0 301.0L997.5 301.4L999.9 301.7L1002.4 301.9L1004.9 302.2L1007.4 302.3L1009.9 302.4L1012.4 302.4L1014.9 302.4L1017.4 302.3L1019.9 302.1L1022.4 301.9L1024.9 301.6L1027.4 301.3L1029.9 301.0L1032.4 300.7L1034.9 300.3L1037.3 300.0L1039.8 299.7L1042.3 299.4L1044.8 299.2L1047.3 299.0L1049.8 298.8L1052.3 298.6L1054.8 298.5L1057.3 298.4L1059.8 298.4L1062.3 298.3L1064.8 298.3L1067.3 298.3L1069.8 298.4L1072.3 298.4L1074.8 298.5L1077.3 298.6L1079.8 298.7L1082.3 298.8L1084.8 298.9L1087.3 299.1L1089.8 299.3L1092.3 299.4L1094.8 299.6L1097.3 299.8L1099.8 300.0L1102.3 300.3L1104.8 300.5L1107.3 300.7L1109.8 301.0L1112.3 301.3L1114.8 301.6L1117.3 301.9L1119.7 302.2L1122.2 302.5L1124.7 302.8L1127.2 303.2L1129.7 303.5L1132.1 303.9L1134.6 304.3L1137.1 304.7L1139.6 305.2L1142.0 305.7L1144.5 306.1L1146.9 306.7L1149.4 307.2L1151.8 307.7L1154.2 308.3L1156.7 309.0L1159.1 309.6L1161.5 310.3L1163.9 311.0L1166.3 311.8L1168.7 312.6L1171.0 313.4L1173.4 314.3L1175.7 315.2L1178.0 316.1L1180.3 317.1L1182.6 318.1L1184.9 319.2L1187.1 320.4L1189.3 321.5L1191.5 322.7L1193.7 324.0L1195.8 325.3L1197.9 326.6L1200.0 328.0L1202.1 329.4L1204.1 330.9L1206.1 332.4L1208.1 333.9L1210.1 335.5L1212.0 337.1L1213.9 338.7L1215.8 340.4L1217.6 342.1L1219.4 343.8L1221.2 345.5L1223.0 347.3L1224.8 349.1L1226.5 350.9L1228.2 352.7L1229.9 354.5L1231.6 356.4L1233.2 358.3L1234.9 360.2L1236.5 362.1L1238.1 364.0L1239.7 366.0L1241.2 367.9L1242.8 369.9L1244.3 371.9L1245.8 373.9L1247.4 375.9L1248.8 377.9L1250.3 379.9L1251.7 382.0L1253.2 384.0L1254.6 386.1L1256.0 388.2L1257.3 390.3L1258.6 392.4L1259.9 394.6L1261.2 396.7L1262.4 398.9L1263.7 401.1L1264.8 403.3L1266.0 405.5L1267.1 407.8L1268.2 410.0L1269.3 412.3L1270.3 414.6L1271.3 416.8L1272.3 419.1L1273.3 421.4L1274.3 423.7L1275.3 426.0L1276.2 428.4L1277.2 430.7L1278.1 433.0L1279.1 435.3L1280.0 437.6L1280.9 440.0L1281.8 442.3L1282.8 444.6L1283.7 447.0L1284.6 449.3L1285.5 451.6L1286.4 454.0L1287.2 456.3L1288.1 458.7L1289.0 461.0L1289.9 463.4L1290.7 465.7L1291.6 468.1L1292.4 470.4L1293.3 472.8L1294.1 475.1L1294.9 477.5L1295.8 479.9L1296.6 482.2L1297.4 484.6L1298.2 487.0L1299.0 489.4L1299.8 491.7L1300.6 494.1L1301.4 496.5L1302.2 498.9L1302.9 501.2L1303.7 503.6L1304.5 506.0L1305.2 508.4L1306.0 510.8L1306.7 513.2L1307.5 515.6L1308.2 518.0L1308.9 520.4L1309.6 522.8L1310.4 525.2L1311.1 527.6L1311.8 530.0L1312.5 532.4L1313.2 534.8L1313.9 537.2L1314.6 539.6L1315.3 542.0L1315.9 544.4L1316.6 546.8L1317.3 549.2L1318.0 551.6L1318.6 554.1L1319.3 556.5L1320.0 558.9L1320.6 561.3L1321.3 563.7L1321.9 566.1L1322.6 568.6L1323.2 571.0L1323.9 573.4L1324.5 575.8L1325.1 578.2L1325.8 580.7L1326.4 583.1L1327.0 585.5L1327.7 587.9L1328.3 590.4L1328.9 592.8L1329.5 595.2L1330.1 597.6L1330.8 600.1L1331.4 602.5L1332.0 604.9L1332.6 607.4L1333.2 609.8L1333.8 612.2L1334.4 614.6L1335.0 617.1L1335.7 619.5L1336.3 621.9L1336.9 624.4L1337.5 626.8L1338.1 629.2L1338.7 631.7L1339.3 634.1L1339.9 636.5L1340.5 638.9L1341.1 641.4L1341.7 643.8L1342.3 646.2L1342.9 648.7L1343.5 651.1L1344.1 653.5L1344.7 656.0L1345.3 658.4L1345.9 660.8L1346.5 663.3L1347.1 665.7L1347.7 668.1L1348.3 670.5L1349.0 673.0L1349.6 675.4L1350.2 677.8L1350.8 680.3L1351.4 682.7L1352.0 685.1L1352.7 687.5L1353.3 690.0L1353.9 692.4L1354.5 694.8L1355.2 697.2L1355.8 699.7L1356.4 702.1L1357.1 704.5L1357.7 706.9L1358.4 709.3L1359.0 711.8L1359.7 714.2L1360.3 716.6L1361.0 719.0L1361.6 721.4L1362.3 723.8L1363.0 726.3L1363.7 728.7L1364.3 731.1L1365.0 733.5L1365.7 735.9L1366.4 738.3L1367.1 740.7L1367.8 743.1L1368.6 745.5L1369.3 747.9L1370.0 750.3L1370.8 752.7L1371.5 755.1L1372.3 757.5L1373.1 759.8L1373.8 762.2L1374.6 764.6L1375.4 767.0L1376.2 769.3L1377.1 771.7L1377.9 774.1L1378.8 776.4L1379.6 778.8L1380.5 781.1L1381.4 783.5L1382.3 785.8L1383.2 788.1L1384.2 790.4L1385.1 792.7L1386.1 795.0L1387.1 797.3L1388.2 799.6L1389.2 801.9L1390.3 804.2L1391.4 806.4L1392.5 808.6L1393.7 810.9L1394.9 813.1L1396.1 815.2L1397.4 817.4L1398.7 819.5L1400.1 821.6L1401.4 823.7L1402.9 825.8L1404.4 827.8L1405.9 829.8L1407.5 831.7L1409.2 833.6L1410.9 835.4L1412.6 837.2L1414.5 838.9L1416.4 840.5L1418.3 842.1L1420.4 843.5L1422.4 844.9L1424.6 846.2L1426.8 847.5L1429.0 848.6L1431.3 849.6L1433.6 850.5L1436.0 851.4L1438.3 852.2L1440.8 852.9L1443.2 853.5L1445.6 854.0L1448.1 854.5L1450.5 855.0L1453.0 855.4L1455.5 855.7" stroke="#bc8f8f" stroke-width="2" stroke-linecap="round"/>
<path d="M943.0 293.0L945.5 293.0L948.0 292.9L950.5 292.9L953.0 292.8L955.5 292.8L958.0 292.7L960.5 292.7L963.0 292.8L965.5 292.9L968.0 293.1L970.5 293.5L972.9 294.2L975.2 295.2L977.4 296.4L979.6 297.6L981.8 298.8L984.1 299.8L986.5 300.4L989.0 300.5L991.5 300.5L994.0 300.5L996.5 300.4L999.0 300.3L1001.5 300.2L1004.0 300.0L1006.5 299.9L1009.0 299.8L1011.5 299.7L1014.0 299.6L1016.5 299.4L1019.0 299.3L1021.5 299.2L1024.0 299.0L1026.5 298.9L1029.0 298.7L1031.5 298.6L1034.1 298.4L1036.6 298.3L1039.1 298.1L1041.6 298.0L1044.1 297.8L1046.6 297.7L1049.1 297.5L1051.6 297.4L1054.1 297.2L1056.6 297.1L1059.1 297.0L1061.6 296.8L1064.1 296.7L1066.6 296.6L1069.1 296.5L1071.6 296.4L1074.1 296.3L1076.6 296.2L1079.1 296.1L1081.6 296.1L1084.1 296.1L1086.6 296.1L1089.1 296.1L1091.6 296.2L1094.1 296.2L1096.6 296.4L1099.1 296.5L1101.6 296.7L1104.1 296.9L1106.6 297.2L1109.1 297.5L1111.6 297.8L1114.1 298.2L1116.5 298.6L1119.0 299.0L1121.5 299.5L1123.9 299.9L1126.4 300.4L1128.8 301.0L1131.3 301.5L1133.7 302.0L1136.2 302.5L1138.6 303.0L1141.1 303.5L1143.5 304.0L1146.0 304.4L1148.5 304.9L1150.9 305.3L1153.4 305.8L1155.9 306.2L1158.3 306.7L1160.8 307.1L1163.3 307.6L1165.7 308.1L1168.2 308.6L1170.6 309.2L1173.0 309.7L1175.5 310.4L1177.9 311.0L1180.3 311.7L1182.7 312.4L1185.1 313.1L1187.5 313.9L1189.9 314.7L1192.2 315.6L1194.6 316.4L1196.9 317.4L1199.2 318.3L1201.5 319.4L1203.8 320.4L1206.0 321.5L1208.3 322.6L1210.5 323.8L1212.7 325.0L1214.9 326.2L1217.0 327.5L1219.1 328.8L1221.2 330.2L1223.3 331.6L1225.4 333.0L1227.4 334.5L1229.4 336.0L1231.4 337.5L1233.3 339.1L1235.2 340.7L1237.1 342.4L1239.0 344.0L1240.8 345.7L1242.6 347.5L1244.4 349.2L1246.2 351.0L1247.9 352.8L1249.6 354.7L1251.2 356.6L1252.9 358.5L1254.5 360.4L1256.1 362.3L1257.7 364.3L1259.2 366.2L1260.7 368.2L1262.2 370.3L1263.7 372.3L1265.1 374.3L1266.5 376.4L1267.9 378.5L1269.3 380.6L1270.7 382.7L1272.0 384.8L1273.3 386.9L1274.6 389.1L1275.9 391.2L1277.1 393.4L1278.4 395.6L1279.6 397.7L1280.8 399.9L1282.0 402.1L1283.2 404.4L1284.3 406.6L1285.5 408.8L1286.6 411.0L1287.7 413.3L1288.8 415.5L1289.9 417.8L1291.0 420.1L1292.1 422.3L1293.1 424.6L1294.2 426.9L1295.2 429.2L1296.2 431.5L1297.2 433.7L1298.2 436.0L1299.2 438.4L1300.2 440.7L1301.1 443.0L1302.1 445.3L1303.0 447.6L1304.0 449.9L1304.9 452.3L1305.8 454.6L1306.7 456.9L1307.6 459.3L1308.5 461.6L1309.4 463.9L1310.3 466.3L1311.2 468.6L1312.0 471.0L1312.9 473.3L1313.7 475.7L1314.6 478.1L1315.4 480.4L1316.3 482.8L1317.1 485.1L1317.9 487.5L1318.7 489.9L1319.5 492.2L1320.4 494.6L1321.2 497.0L1322.0 499.4L1322.7 501.7L1323.5 504.1L1324.3 506.5L1325.1 508.9L1325.9 511.3L1326.7 513.6L1327.4 516.0L1328.2 518.4L1328.9 520.8L1329.7 523.2L1330.5 525.6L1331.2 528.0L1332.0 530.4L1332.7 532.7L1333.5 535.1L1334.2 537.5L1334.9 539.9L1335.7 542.3L1336.4 544.7L1337.1 547.1L1337.9 549.5L1338.6 551.9L1339.3 554.3L1340.0 556.7L1340.8 559.1L1341.5 561.5L1342.2 563.9L1342.9 566.3L1343.6 568.7L1344.3 571.1L1345.1 573.5L1345.8 575.9L1346.5 578.3L1347.2 580.7L1347.9 583.1L1348.6 585.5L1349.3 587.9L1350.0 590.3L1350.8 592.7L1351.5 595.1L1352.2 597.5L1352.9 599.9L1353.6 602.3L1354.3 604.7L1355.0 607.1L1355.7 609.5L1356.4 611.9L1357.1 614.3L1357.9 616.7L1358.6 619.1L1359.3 621.5L1360.0 623.9L1360.7 626.3L1361.4 628.7L1362.2 631.1L1362.9 633.5L1363.6 635.9L1364.3 638.3L1365.1 640.7L1365.8 643.1L1366.5 645.5L1367.3 647.9L1368.0 650.3L1368.8 652.7L1369.5 655.1L1370.3 657.5L1371.0 659.9L1371.8 662.3L1372.5 664.6L1373.3 667.0L1374.1 669.4L1374.9 671.8L1375.6 674.2L1376.4 676.6L1377.2 678.9L1378.0 681.3L1378.8 683.7L1379.6 686.1L1380.5 688.4L1381.3 690.8L1382.1 693.1L1383.0 695.5L1383.8 697.9L1384.7 700.2L1385.5 702.6L1386.4 704.9L1387.3 707.3L1388.2 709.6L1389.1 711.9L1390.0 714.3L1390.9 716.6L1391.9 718.9L1392.9 721.2L1393.8 723.5L1394.8 725.8L1395.8 728.1L1396.9 730.4L1397.9 732.7L1399.0 735.0L1400.1 737.2L1401.2 739.5L1402.3 741.7L1403.5 743.9L1404.7 746.1L1405.9 748.3L1407.1 750.5L1408.4 752.6L1409.7 754.7L1411.1 756.8L1412.5 758.9L1414.0 760.9L1415.5 762.9L1417.0 764.9L1418.7 766.8L1420.4 768.7L1422.1 770.5L1423.9 772.2L1425.8 773.8L1427.8 775.4L1429.8 776.9L1431.9 778.2L1434.1 779.5L1436.3 780.6L1438.6 781.7L1440.9 782.6L1443.3 783.4L1445.7 784.1L1448.1 784.7L1450.6 785.2L1453.0 785.7L1455.5 786.1" stroke="#ff00d4" stroke-width="4" stroke-linecap="round"/>
<path d="M943.0 293.0L945.5 293.3L948.0 293.6L950.5 293.9L952.9 294.2L955.4 294.6L957.9 294.9L960.4 295.2L962.9 295.5L965.4 295.8L967.8 296.1L970.3 296.4L972.8 296.7L975.3 297.0L977.8 297.2L980.3 297.5L982.8 297.7L985.3 298.0L987.8 298.2L990.3 298.4L992.8 298.5L995.3 298.6L997.8 298.7L1000.3 298.8L1002.8 298.8L1005.3 298.8L1007.8 298.7L1010.3 298.6L1012.8 298.5L1015.3 298.3L1017.8 298.1L1020.3 297.9L1022.8 297.7L1025.2 297.5L1027.7 297.3L1030.2 297.0L1032.7 296.8L1035.2 296.6L1037.7 296.4L1040.2 296.2L1042.7 296.0L1045.2 295.9L1047.7 295.7L1050.2 295.6L1052.7 295.5L1055.2 295.5L1057.7 295.4L1060.2 295.4L1062.7 295.4L1065.2 295.4L1067.7 295.4L1070.2 295.4L1072.7 295.5L1075.2 295.5L1077.7 295.6L1080.2 295.7L1082.7 295.8L1085.2 296.0L1087.7 296.1L1090.2 296.2L1092.7 296.4L1095.2 296.6L1097.7 296.7L1100.2 296.9L1102.7 297.1L1105.2 297.3L1107.7 297.6L1110.2 297.8L1112.7 298.0L1115.2 298.3L1117.7 298.5L1120.2 298.8L1122.7 299.1L1125.1 299.3L1127.6 299.6L1130.1 299.9L1132.6 300.2L1135.1 300.6L1137.6 300.9L1140.0 301.2L1142.5 301.6L1145.0 302.0L1147.5 302.4L1149.9 302.8L1152.4 303.2L1154.9 303.6L1157.3 304.0L1159.8 304.5L1162.3 305.0L1164.7 305.5L1167.2 306.0L1169.6 306.5L1172.0 307.1L1174.5 307.7L1176.9 308.3L1179.3 308.9L1181.8 309.5L1184.2 310.2L1186.6 310.9L1189.0 311.7L1191.3 312.4L1193.7 313.2L1196.1 314.0L1198.4 314.9L1200.8 315.8L1203.1 316.7L1205.4 317.7L1207.7 318.7L1210.0 319.7L1212.3 320.7L1214.5 321.8L1216.7 323.0L1218.9 324.2L1221.1 325.4L1223.3 326.6L1225.4 327.9L1227.6 329.3L1229.7 330.6L1231.7 332.0L1233.8 333.5L1235.8 335.0L1237.8 336.5L1239.8 338.0L1241.7 339.6L1243.6 341.2L1245.5 342.9L1247.3 344.5L1249.2 346.3L1251.0 348.0L1252.7 349.8L1254.5 351.6L1256.2 353.4L1257.9 355.2L1259.6 357.1L1261.2 359.0L1262.8 360.9L1264.4 362.8L1266.0 364.8L1267.5 366.8L1269.0 368.8L1270.5 370.8L1272.0 372.8L1273.4 374.9L1274.8 376.9L1276.2 379.0L1277.6 381.1L1279.0 383.2L1280.3 385.3L1281.6 387.4L1282.9 389.6L1284.2 391.7L1285.5 393.9L1286.7 396.0L1288.0 398.2L1289.2 400.4L1290.4 402.6L1291.6 404.8L1292.8 407.0L1293.9 409.2L1295.1 411.4L1296.2 413.7L1297.3 415.9L1298.4 418.2L1299.5 420.4L1300.6 422.7L1301.7 424.9L1302.7 427.2L1303.8 429.5L1304.8 431.8L1305.9 434.0L1306.9 436.3L1307.9 438.6L1308.9 440.9L1309.9 443.2L1310.9 445.5L1311.8 447.8L1312.8 450.1L1313.7 452.4L1314.7 454.8L1315.6 457.1L1316.6 459.4L1317.5 461.7L1318.4 464.1L1319.3 466.4L1320.2 468.7L1321.1 471.1L1322.0 473.4L1322.9 475.7L1323.8 478.1L1324.7 480.4L1325.5 482.8L1326.4 485.1L1327.3 487.5L1328.1 489.8L1329.0 492.2L1329.8 494.5L1330.6 496.9L1331.5 499.3L1332.3 501.6L1333.1 504.0L1334.0 506.3L1334.8 508.7L1335.6 511.1L1336.4 513.4L1337.2 515.8L1338.0 518.2L1338.8 520.6L1339.6 522.9L1340.4 525.3L1341.2 527.7L1342.0 530.1L1342.8 532.4L1343.6 534.8L1344.3 537.2L1345.1 539.6L1345.9 541.9L1346.7 544.3L1347.4 546.7L1348.2 549.1L1349.0 551.5L1349.8 553.9L1350.5 556.2L1351.3 558.6L1352.1 561.0L1352.8 563.4L1353.6 565.8L1354.4 568.1L1355.2 570.5L1355.9 572.9L1356.7 575.3L1357.5 577.7L1358.2 580.0L1359.0 582.4L1359.8 584.8L1360.6 587.2L1361.4 589.6L1362.1 591.9L1362.9 594.3L1363.7 596.7L1364.5 599.1L1365.3 601.4L1366.1 603.8L1366.9 606.2L1367.7 608.6L1368.5 610.9L1369.3 613.3L1370.1 615.7L1371.0 618.0L1371.8 620.4L1372.6 622.8L1373.5 625.1L1374.3 627.5L1375.2 629.8L1376.0 632.2L1376.9 634.5L1377.8 636.9L1378.6 639.2L1379.5 641.5L1380.4 643.9L1381.3 646.2L1382.3 648.5L1383.2 650.9L1384.1 653.2L1385.1 655.5L1386.0 657.8L1387.0 660.1L1387.9 662.4L1388.9 664.8L1389.9 667.1L1390.9 669.3L1391.9 671.6L1393.0 673.9L1394.0 676.2L1395.1 678.5L1396.1 680.7L1397.2 683.0L1398.3 685.2L1399.4 687.5L1400.5 689.7L1401.7 691.9L1402.9 694.1L1404.1 696.3L1405.3 698.5L1406.5 700.7L1407.8 702.9L1409.1 705.0L1410.4 707.1L1411.8 709.2L1413.2 711.3L1414.6 713.3L1416.1 715.3L1417.7 717.3L1419.3 719.2L1420.9 721.1L1422.7 722.9L1424.5 724.6L1426.4 726.3L1428.3 727.8L1430.4 729.3L1432.5 730.6L1434.7 731.9L1436.9 732.9L1439.3 733.8L1441.6 734.6L1444.0 735.3L1446.5 735.9L1448.9 736.3L1451.4 736.7L1453.9 736.9L1456.4 737.2L1458.9 737.3L1461.4 737.5L1463.9 737.6L1466.4 737.6L1468.9 737.7L1471.4 737.7L1473.9 737.8L1476.4 737.8L1478.9 737.8L1481.4 737.8L1483.9 737.8L1486.4 737.9L1488.9 737.9L1491.4 737.9L1493.9 737.9L1496.4 737.9L1498.9 737.9L1501.5 737.9L1504.0 737.9L1506.5 737.9L1509.0 737.9L1511.5 737.9L1514.0 737.9L1516.5 737.9L1519.0 738.0L1521.5 738.0L1524.0 738.0L1526.5 738.0L1529.0 738.0L1531.5 738.0L1534.0 738.0L1536.5 738.0L1539.0 738.0" stroke="#9400d3" stroke-width="4" stroke-linecap="round"/>
<path d="M943.0 292.6L945.5 292.6L948.0 292.6L950.5 292.6L953.0 292.6L955.5 292.6L958.0 292.6L960.5 292.6L963.0 292.6L965.5 292.6L968.0 292.6L970.5 292.6L973.0 292.6L975.5 292.6L978.0 292.6L980.6 292.7L983.1 292.7L985.6 292.7L988.1 292.7L990.6 292.7L993.1 292.7L995.6 292.7L998.1 292.7L1000.6 292.7L1003.1 292.7L1005.6 292.8L1008.1 292.8L1010.6 292.8L1013.1 292.8L1015.6 292.8L1018.1 292.8L1020.6 292.8L1023.1 292.9L1025.6 292.9L1028.1 292.9L1030.6 292.9L1033.1 293.0L1035.6 293.0L1038.1 293.0L1040.6 293.0L1043.1 293.1L1045.6 293.1L1048.1 293.1L1050.7 293.2L1053.2 293.2L1055.7 293.2L1058.2 293.3L1060.7 293.3L1063.2 293.4L1065.7 293.4L1068.2 293.5L1070.7 293.5L1073.2 293.6L1075.7 293.6L1078.2 293.7L1080.7 293.8L1083.2 293.8L1085.7 293.9L1088.2 294.0L1090.7 294.1L1093.2 294.2L1095.7 294.2L1098.2 294.3L1100.7 294.4L1103.2 294.6L1105.7 294.7L1108.2 294.8L1110.7 294.9L1113.2 295.1L1115.7 295.2L1118.2 295.3L1120.7 295.5L1123.2 295.7L1125.7 295.8L1128.2 296.0L1130.7 296.2L1133.2 296.4L1135.7 296.6L1138.2 296.9L1140.7 297.1L1143.2 297.4L1145.6 297.6L1148.1 297.9L1150.6 298.2L1153.1 298.5L1155.6 298.9L1158.1 299.2L1160.5 299.6L1163.0 300.0L1165.5 300.4L1168.0 300.8L1170.4 301.2L1172.9 301.7L1175.3 302.2L1177.8 302.7L1180.2 303.2L1182.7 303.8L1185.1 304.4L1187.5 305.0L1189.9 305.7L1192.4 306.3L1194.8 307.0L1197.1 307.8L1199.5 308.6L1201.9 309.4L1204.3 310.2L1206.6 311.0L1208.9 312.0L1211.3 312.9L1213.6 313.9L1215.9 314.9L1218.1 315.9L1220.4 317.0L1222.7 318.1L1224.9 319.2L1227.1 320.4L1229.3 321.6L1231.4 322.9L1233.6 324.2L1235.7 325.5L1237.8 326.8L1239.9 328.2L1242.0 329.6L1244.0 331.1L1246.0 332.6L1248.0 334.1L1250.0 335.6L1252.0 337.2L1253.9 338.8L1255.8 340.4L1257.7 342.0L1259.6 343.7L1261.4 345.4L1263.2 347.1L1265.0 348.8L1266.8 350.6L1268.6 352.4L1270.3 354.2L1272.0 356.0L1273.7 357.9L1275.3 359.8L1277.0 361.7L1278.6 363.6L1280.2 365.5L1281.8 367.4L1283.3 369.4L1284.8 371.4L1286.3 373.4L1287.8 375.4L1289.3 377.5L1290.7 379.5L1292.1 381.6L1293.5 383.7L1294.9 385.8L1296.2 387.9L1297.5 390.0L1298.8 392.1L1300.1 394.3L1301.3 396.5L1302.6 398.7L1303.8 400.8L1305.0 403.0L1306.1 405.3L1307.3 407.5L1308.4 409.7L1309.6 411.9L1310.7 414.2L1311.8 416.4L1312.9 418.7L1313.9 421.0L1315.0 423.2L1316.1 425.5L1317.1 427.8L1318.1 430.0L1319.2 432.3L1320.2 434.6L1321.3 436.9L1322.3 439.2L1323.3 441.4L1324.4 443.7L1325.4 446.0L1326.4 448.3L1327.5 450.5L1328.5 452.8L1329.6 455.1L1330.6 457.4L1331.7 459.6L1332.7 461.9L1333.8 464.2L1334.8 466.5L1335.9 468.7L1336.9 471.0L1338.0 473.3L1339.0 475.6L1340.0 477.8L1341.1 480.1L1342.1 482.4L1343.1 484.7L1344.1 487.0L1345.2 489.3L1346.2 491.6L1347.2 493.9L1348.2 496.2L1349.1 498.5L1350.1 500.8L1351.1 503.1L1352.1 505.4L1353.0 507.7L1354.0 510.0L1355.0 512.3L1355.9 514.6L1356.9 516.9L1357.8 519.2L1358.8 521.6L1359.7 523.9L1360.7 526.2L1361.6 528.5L1362.6 530.8L1363.5 533.1L1364.5 535.5L1365.4 537.8L1366.4 540.1L1367.3 542.4L1368.3 544.7L1369.2 547.0L1370.2 549.3L1371.2 551.7L1372.1 554.0L1373.1 556.3L1374.1 558.6L1375.1 560.9L1376.1 563.2L1377.1 565.5L1378.1 567.7L1379.2 570.0L1380.2 572.3L1381.3 574.6L1382.3 576.8L1383.4 579.1L1384.5 581.3L1385.6 583.6L1386.8 585.8L1387.9 588.0L1389.1 590.2L1390.3 592.4L1391.6 594.6L1392.8 596.8L1394.1 598.9L1395.4 601.0L1396.8 603.1L1398.2 605.2L1399.6 607.3L1401.1 609.3L1402.6 611.3L1404.2 613.2L1405.8 615.2L1407.4 617.0L1409.2 618.8L1410.9 620.6L1412.8 622.3L1414.7 624.0L1416.6 625.5L1418.6 627.0L1420.7 628.4L1422.8 629.8L1425.0 631.0L1427.2 632.2L1429.5 633.2L1431.8 634.2L1434.1 635.1L1436.5 635.9L1438.8 636.7L1441.3 637.4L1443.7 638.0L1446.1 638.5L1448.6 639.0L1451.0 639.4L1453.5 639.8L1456.0 640.2" stroke="#000" stroke-width="4" stroke-linecap="round"/>
<path d="M943.0 291.9L945.5 291.9L948.0 291.9L950.5 291.9L953.0 291.9L955.5 291.9L958.0 291.9L960.5 291.9L963.1 291.9L965.6 291.9L968.1 291.9L970.6 291.9L973.1 291.9L975.6 292.0L978.1 292.0L980.6 292.0L983.1 292.0L985.6 292.0L988.1 292.0L990.6 292.0L993.1 292.0L995.6 292.0L998.1 292.1L1000.7 292.1L1003.2 292.1L1005.7 292.1L1008.2 292.1L1010.7 292.1L1013.2 292.2L1015.7 292.2L1018.2 292.2L1020.7 292.2L1023.2 292.2L1025.7 292.3L1028.2 292.3L1030.7 292.3L1033.2 292.3L1035.7 292.4L1038.3 292.4L1040.8 292.4L1043.3 292.5L1045.8 292.5L1048.3 292.5L1050.8 292.6L1053.3 292.6L1055.8 292.7L1058.3 292.7L1060.8 292.8L1063.3 292.8L1065.8 292.9L1068.3 292.9L1070.8 293.0L1073.3 293.0L1075.8 293.1L1078.4 293.2L1080.9 293.3L1083.4 293.3L1085.9 293.4L1088.4 293.5L1090.9 293.6L1093.4 293.7L1095.9 293.8L1098.4 293.9L1100.9 294.0L1103.4 294.1L1105.9 294.2L1108.4 294.3L1110.9 294.5L1113.4 294.6L1115.9 294.8L1118.4 294.9L1120.9 295.1L1123.4 295.2L1125.9 295.4L1128.4 295.6L1130.9 295.8L1133.4 296.0L1135.9 296.2L1138.4 296.5L1140.9 296.7L1143.4 297.0L1145.9 297.2L1148.4 297.5L1150.9 297.8L1153.4 298.1L1155.9 298.4L1158.3 298.7L1160.8 299.1L1163.3 299.5L1165.8 299.8L1168.3 300.2L1170.7 300.7L1173.2 301.1L1175.7 301.6L1178.1 302.1L1180.6 302.6L1183.0 303.1L1185.5 303.7L1187.9 304.2L1190.3 304.8L1192.8 305.5L1195.2 306.1L1197.6 306.8L1200.0 307.5L1202.4 308.3L1204.8 309.0L1207.1 309.8L1209.5 310.7L1211.9 311.5L1214.2 312.4L1216.5 313.3L1218.9 314.3L1221.2 315.3L1223.4 316.3L1225.7 317.4L1228.0 318.5L1230.2 319.6L1232.4 320.8L1234.6 322.0L1236.8 323.2L1239.0 324.5L1241.1 325.7L1243.3 327.1L1245.4 328.4L1247.5 329.8L1249.5 331.2L1251.6 332.7L1253.6 334.2L1255.6 335.7L1257.6 337.2L1259.5 338.8L1261.4 340.4L1263.4 342.0L1265.2 343.7L1267.1 345.3L1269.0 347.0L1270.8 348.8L1272.6 350.5L1274.3 352.3L1276.1 354.1L1277.8 355.9L1279.5 357.7L1281.2 359.6L1282.9 361.5L1284.5 363.3L1286.1 365.3L1287.7 367.2L1289.3 369.1L1290.9 371.1L1292.4 373.1L1293.9 375.1L1295.4 377.1L1296.9 379.1L1298.3 381.2L1299.7 383.3L1301.1 385.3L1302.5 387.4L1303.9 389.5L1305.2 391.6L1306.5 393.8L1307.9 395.9L1309.1 398.1L1310.4 400.2L1311.7 402.4L1312.9 404.6L1314.1 406.8L1315.3 409.0L1316.5 411.2L1317.7 413.4L1318.8 415.6L1320.0 417.8L1321.1 420.1L1322.3 422.3L1323.4 424.6L1324.5 426.8L1325.6 429.1L1326.7 431.3L1327.8 433.6L1328.9 435.8L1330.0 438.1L1331.1 440.3L1332.2 442.6L1333.2 444.8L1334.3 447.1L1335.4 449.4L1336.5 451.6L1337.6 453.9L1338.6 456.2L1339.7 458.4L1340.8 460.7L1341.9 463.0L1342.9 465.2L1344.0 467.5L1345.1 469.7L1346.2 472.0L1347.2 474.3L1348.3 476.5L1349.4 478.8L1350.4 481.1L1351.5 483.4L1352.5 485.6L1353.6 487.9L1354.7 490.2L1355.7 492.4L1356.8 494.7L1357.8 497.0L1358.9 499.3L1359.9 501.5L1361.0 503.8L1362.1 506.1L1363.1 508.4L1364.2 510.6L1365.3 512.9L1366.3 515.2L1367.4 517.4L1368.5 519.7L1369.6 521.9L1370.7 524.2L1371.8 526.5L1372.9 528.7L1374.0 530.9L1375.1 533.2L1376.3 535.4L1377.4 537.6L1378.6 539.9L1379.8 542.1L1381.0 544.3L1382.2 546.5L1383.4 548.6L1384.7 550.8L1385.9 553.0L1387.2 555.1L1388.6 557.3L1389.9 559.4L1391.3 561.5L1392.7 563.5L1394.2 565.6L1395.6 567.6L1397.2 569.6L1398.8 571.5L1400.4 573.4L1402.1 575.3L1403.8 577.1L1405.6 578.9L1407.4 580.6L1409.3 582.2L1411.3 583.7L1413.3 585.2L1415.4 586.6L1417.6 587.9L1419.8 589.1L1422.0 590.1L1424.3 591.1L1426.7 592.0L1429.1 592.8L1431.5 593.5L1433.9 594.1L1436.4 594.6L1438.8 595.0L1441.3 595.4L1443.8 595.7L1446.3 596.0L1448.8 596.2L1451.3 596.4L1453.8 596.6L1456.3 596.7L1458.8 596.8L1461.3 596.9L1463.8 597.0L1466.3 597.0L1468.8 597.1L1471.3 597.1L1473.8 597.1L1476.3 597.2L1478.8 597.2L1481.3 597.2L1483.9 597.2L1486.4 597.2L1488.9 597.2L1491.4 597.3L1493.9 597.3L1496.4 597.3L1498.9 597.3L1501.4 597.3L1503.9 597.3L1506.4 597.3L1508.9 597.3L1511.4 597.3L1513.9 597.3L1516.4 597.3L1518.9 597.3L1521.5 597.3L1524.0 597.3L1526.5 597.3L1529.0 597.3L1531.5 597.3L1534.0 597.3L1536.5 597.3L1539.0 597.3" stroke="#ff0000" stroke-width="4" stroke-linecap="round"/>
<path d="M943.0 292.0L945.5 292.0L948.0 292.0L950.5 292.0L953.0 292.0L955.5 292.1L958.0 292.1L960.5 292.1L963.1 292.1L965.6 292.1L968.1 292.1L970.6 292.1L973.1 292.1L975.6 292.1L978.1 292.1L980.6 292.1L983.1 292.1L985.6 292.1L988.1 292.1L990.6 292.2L993.1 292.2L995.6 292.2L998.1 292.2L1000.6 292.2L1003.2 292.2L1005.7 292.2L1008.2 292.2L1010.7 292.3L1013.2 292.3L1015.7 292.3L1018.2 292.3L1020.7 292.3L1023.2 292.3L1025.7 292.4L1028.2 292.4L1030.7 292.4L1033.2 292.4L1035.7 292.5L1038.2 292.5L1040.7 292.5L1043.3 292.5L1045.8 292.6L1048.3 292.6L1050.8 292.6L1053.3 292.7L1055.8 292.7L1058.3 292.8L1060.8 292.8L1063.3 292.8L1065.8 292.9L1068.3 292.9L1070.8 293.0L1073.3 293.1L1075.8 293.1L1078.3 293.2L1080.8 293.2L1083.3 293.3L1085.9 293.4L1088.4 293.5L1090.9 293.5L1093.4 293.6L1095.9 293.7L1098.4 293.8L1100.9 293.9L1103.4 294.0L1105.9 294.1L1108.4 294.2L1110.9 294.3L1113.4 294.5L1115.9 294.6L1118.4 294.7L1120.9 294.9L1123.4 295.0L1125.9 295.2L1128.4 295.4L1130.9 295.6L1133.4 295.7L1135.9 295.9L1138.4 296.2L1140.9 296.4L1143.4 296.6L1145.9 296.8L1148.4 297.1L1150.9 297.4L1153.4 297.7L1155.9 297.9L1158.3 298.3L1160.8 298.6L1163.3 298.9L1165.8 299.3L1168.3 299.7L1170.7 300.1L1173.2 300.5L1175.7 300.9L1178.2 301.4L1180.6 301.8L1183.1 302.3L1185.5 302.8L1188.0 303.4L1190.4 303.9L1192.9 304.5L1195.3 305.1L1197.7 305.8L1200.1 306.4L1202.5 307.1L1204.9 307.9L1207.3 308.6L1209.7 309.4L1212.1 310.2L1214.4 311.0L1216.8 311.9L1219.1 312.8L1221.5 313.8L1223.8 314.7L1226.1 315.7L1228.4 316.7L1230.6 317.8L1232.9 318.9L1235.1 320.0L1237.3 321.2L1239.6 322.3L1241.8 323.6L1243.9 324.8L1246.1 326.1L1248.2 327.4L1250.3 328.7L1252.4 330.1L1254.5 331.5L1256.6 332.9L1258.6 334.4L1260.7 335.8L1262.7 337.3L1264.6 338.9L1266.6 340.4L1268.6 342.0L1270.5 343.6L1272.4 345.2L1274.3 346.9L1276.1 348.6L1278.0 350.3L1279.8 352.0L1281.6 353.8L1283.3 355.5L1285.1 357.3L1286.8 359.2L1288.5 361.0L1290.2 362.9L1291.8 364.8L1293.4 366.7L1295.0 368.6L1296.6 370.5L1298.2 372.5L1299.7 374.5L1301.2 376.5L1302.7 378.6L1304.1 380.6L1305.5 382.7L1306.9 384.7L1308.3 386.9L1309.6 389.0L1310.9 391.1L1312.2 393.2L1313.5 395.4L1314.8 397.6L1316.0 399.8L1317.2 401.9L1318.4 404.1L1319.6 406.4L1320.8 408.6L1321.9 410.8L1323.1 413.0L1324.2 415.3L1325.3 417.5L1326.5 419.7L1327.6 422.0L1328.7 424.2L1329.8 426.5L1330.9 428.7L1332.1 430.9L1333.2 433.2L1334.3 435.4L1335.5 437.7L1336.6 439.9L1337.7 442.1L1338.9 444.3L1340.0 446.6L1341.2 448.8L1342.4 451.0L1343.5 453.2L1344.7 455.4L1345.9 457.7L1347.1 459.9L1348.2 462.1L1349.4 464.3L1350.6 466.5L1351.8 468.7L1353.0 470.9L1354.1 473.1L1355.3 475.3L1356.5 477.6L1357.7 479.8L1358.9 482.0L1360.0 484.2L1361.2 486.4L1362.4 488.6L1363.6 490.8L1364.8 493.0L1365.9 495.2L1367.1 497.4L1368.3 499.7L1369.5 501.8L1370.8 504.0L1372.0 506.2L1373.2 508.4L1374.5 510.6L1375.7 512.8L1377.0 514.9L1378.3 517.1L1379.6 519.2L1380.9 521.4L1382.2 523.5L1383.6 525.6L1385.0 527.7L1386.4 529.7L1387.8 531.8L1389.3 533.8L1390.8 535.8L1392.3 537.8L1393.9 539.7L1395.5 541.7L1397.2 543.5L1398.9 545.3L1400.7 547.1L1402.5 548.8L1404.4 550.5L1406.4 552.0L1408.4 553.5L1410.5 554.9L1412.6 556.2L1414.8 557.4L1417.0 558.6L1419.3 559.6L1421.7 560.5L1424.1 561.2L1426.5 561.9L1428.9 562.5L1431.4 563.1L1433.8 563.5L1436.3 563.9L1438.8 564.2L1441.3 564.4L1443.8 564.7L1446.3 564.8L1448.8 565.0L1451.3 565.1L1453.8 565.2L1456.3 565.2L1458.8 565.3L1461.3 565.4L1463.8 565.4L1466.3 565.4L1468.8 565.4L1471.3 565.5L1473.8 565.5L1476.3 565.5L1478.8 565.5L1481.4 565.5L1483.9 565.5L1486.4 565.5L1488.9 565.5L1491.4 565.5L1493.9 565.5L1496.4 565.5L1498.9 565.5L1501.4 565.5L1503.9 565.5L1506.4 565.5L1508.9 565.5L1511.4 565.5L1513.9 565.5L1516.4 565.5L1518.9 565.5L1521.5 565.5L1524.0 565.5L1526.5 565.5L1529.0 565.5L1531.5 565.5L1534.0 565.5L1536.5 565.5L1539.0 565.5" stroke="#00ff00" stroke-width="4" stroke-linecap="round"/>
<path d="M943.0 293.0L945.5 293.0L948.0 293.0L950.5 293.0L953.0 293.0L955.5 293.0L958.0 293.0L960.5 293.1L963.0 293.1L965.5 293.1L968.0 293.1L970.5 293.1L973.0 293.1L975.5 293.1L978.0 293.1L980.5 293.1L983.0 293.1L985.5 293.1L988.0 293.1L990.5 293.1L993.0 293.1L995.5 293.1L998.1 293.1L1000.6 293.1L1003.1 293.1L1005.6 293.2L1008.1 293.2L1010.6 293.2L1013.1 293.2L1015.6 293.2L1018.1 293.2L1020.6 293.2L1023.1 293.2L1025.6 293.2L1028.1 293.3L1030.6 293.3L1033.1 293.3L1035.6 293.3L1038.1 293.3L1040.6 293.3L1043.1 293.4L1045.6 293.4L1048.1 293.4L1050.6 293.4L1053.1 293.5L1055.6 293.5L1058.1 293.5L1060.6 293.5L1063.1 293.6L1065.6 293.6L1068.1 293.6L1070.6 293.7L1073.1 293.7L1075.6 293.8L1078.1 293.8L1080.6 293.8L1083.1 293.9L1085.6 293.9L1088.1 294.0L1090.6 294.1L1093.1 294.1L1095.6 294.2L1098.1 294.3L1100.6 294.3L1103.1 294.4L1105.6 294.5L1108.1 294.6L1110.6 294.7L1113.1 294.8L1115.6 294.9L1118.1 295.0L1120.6 295.1L1123.1 295.2L1125.6 295.4L1128.1 295.5L1130.6 295.6L1133.1 295.8L1135.6 295.9L1138.1 296.1L1140.6 296.3L1143.1 296.5L1145.6 296.7L1148.1 296.9L1150.6 297.1L1153.1 297.4L1155.6 297.6L1158.1 297.9L1160.6 298.1L1163.0 298.4L1165.5 298.7L1168.0 299.1L1170.5 299.4L1173.0 299.8L1175.4 300.1L1177.9 300.5L1180.4 301.0L1182.8 301.4L1185.3 301.9L1187.8 302.3L1190.2 302.9L1192.6 303.4L1195.1 304.0L1197.5 304.5L1199.9 305.2L1202.4 305.8L1204.8 306.5L1207.2 307.2L1209.6 307.9L1212.0 308.7L1214.3 309.5L1216.7 310.3L1219.0 311.2L1221.4 312.0L1223.7 313.0L1226.0 313.9L1228.3 314.9L1230.6 316.0L1232.8 317.0L1235.1 318.1L1237.3 319.2L1239.5 320.4L1241.7 321.6L1243.9 322.8L1246.1 324.1L1248.2 325.4L1250.4 326.7L1252.5 328.1L1254.5 329.4L1256.6 330.9L1258.7 332.3L1260.7 333.7L1262.7 335.2L1264.7 336.7L1266.7 338.3L1268.6 339.8L1270.6 341.4L1272.5 343.0L1274.4 344.6L1276.3 346.3L1278.2 348.0L1280.0 349.6L1281.8 351.3L1283.7 353.0L1285.5 354.8L1287.3 356.5L1289.0 358.3L1290.8 360.1L1292.5 361.9L1294.2 363.7L1295.9 365.6L1297.6 367.4L1299.3 369.3L1300.9 371.2L1302.5 373.1L1304.1 375.0L1305.7 377.0L1307.2 378.9L1308.8 380.9L1310.3 382.9L1311.7 384.9L1313.2 387.0L1314.6 389.1L1316.0 391.1L1317.3 393.2L1318.7 395.4L1320.0 397.5L1321.3 399.6L1322.5 401.8L1323.7 404.0L1325.0 406.2L1326.2 408.4L1327.3 410.6L1328.5 412.8L1329.6 415.0L1330.8 417.2L1331.9 419.5L1333.0 421.7L1334.2 423.9L1335.3 426.2L1336.4 428.4L1337.5 430.6L1338.7 432.9L1339.8 435.1L1341.0 437.3L1342.2 439.5L1343.4 441.7L1344.7 443.9L1345.9 446.0L1347.3 448.1L1348.6 450.3L1350.0 452.4L1351.3 454.4L1352.8 456.5L1354.2 458.6L1355.6 460.6L1357.1 462.6L1358.6 464.7L1360.0 466.7L1361.5 468.7L1362.9 470.8L1364.3 472.8L1365.7 474.9L1367.1 477.0L1368.5 479.1L1369.9 481.2L1371.2 483.3L1372.6 485.4L1373.9 487.5L1375.3 489.6L1376.6 491.7L1377.9 493.8L1379.3 496.0L1380.6 498.1L1382.0 500.1L1383.4 502.2L1384.8 504.3L1386.3 506.3L1387.8 508.3L1389.3 510.3L1390.9 512.2L1392.5 514.1L1394.2 516.0L1395.9 517.8L1397.8 519.5L1399.6 521.2L1401.6 522.7L1403.6 524.2L1405.7 525.6L1407.8 526.9L1410.0 528.1L1412.3 529.2L1414.6 530.1L1416.9 531.0L1419.3 531.8L1421.7 532.5L1424.1 533.1L1426.6 533.7L1429.0 534.1L1431.5 534.5L1434.0 534.9L1436.5 535.2L1438.9 535.5L1441.4 535.7L1443.9 535.9L1446.4 536.1L1448.9 536.2L1451.4 536.3L1453.9 536.4L1456.4 536.5L1458.9 536.6L1461.4 536.7L1463.9 536.7L1466.4 536.8L1468.9 536.8L1471.4 536.8L1473.9 536.9L1476.4 536.9L1478.9 536.9L1481.4 536.9L1483.9 537.0L1486.5 537.0L1489.0 537.0L1491.5 537.0L1494.0 537.0L1496.5 537.0L1499.0 537.0L1501.5 537.0L1504.0 537.0L1506.5 537.0L1509.0 537.0L1511.5 537.0L1514.0 537.0L1516.5 537.0L1519.0 537.0L1521.5 537.0L1524.0 537.0L1526.5 537.0L1529.0 537.0L1531.5 537.0L1534.0 537.0L1536.5 537.0L1539.0 537.0" stroke="#0000ff" stroke-width="4" stroke-linecap="round"/>
<path d="M943.0 292.6L945.5 292.6L948.0 292.6L950.5 292.6L953.0 292.6L955.5 292.6L958.0 292.6L960.5 292.6L963.0 292.6L965.5 292.6L968.0 292.6L970.5 292.6L973.0 292.6L975.5 292.6L978.0 292.6L980.5 292.6L983.0 292.6L985.5 292.6L988.0 292.6L990.5 292.6L993.0 292.7L995.5 292.7L998.0 292.7L1000.5 292.7L1003.0 292.7L1005.5 292.7L1008.0 292.7L1010.5 292.7L1013.0 292.7L1015.5 292.7L1018.0 292.7L1020.5 292.8L1023.0 292.8L1025.5 292.8L1028.0 292.8L1030.5 292.8L1033.0 292.8L1035.5 292.9L1038.0 292.9L1040.5 292.9L1043.0 292.9L1045.5 292.9L1048.0 293.0L1050.5 293.0L1053.0 293.0L1055.5 293.0L1058.0 293.1L1060.5 293.1L1063.0 293.1L1065.5 293.2L1068.0 293.2L1070.5 293.2L1073.0 293.3L1075.5 293.3L1078.0 293.4L1080.5 293.4L1083.0 293.5L1085.5 293.5L1088.0 293.6L1090.5 293.6L1093.0 293.7L1095.5 293.8L1098.0 293.8L1100.5 293.9L1103.0 294.0L1105.5 294.1L1108.0 294.2L1110.5 294.2L1113.0 294.3L1115.5 294.4L1118.0 294.6L1120.5 294.7L1123.0 294.8L1125.5 294.9L1128.0 295.0L1130.5 295.2L1133.0 295.3L1135.5 295.5L1138.0 295.6L1140.5 295.8L1142.9 296.0L1145.4 296.2L1147.9 296.4L1150.4 296.6L1152.9 296.8L1155.4 297.1L1157.9 297.3L1160.4 297.6L1162.9 297.8L1165.3 298.1L1167.8 298.4L1170.3 298.7L1172.8 299.1L1175.3 299.4L1177.7 299.8L1180.2 300.2L1182.7 300.6L1185.1 301.0L1187.6 301.5L1190.0 301.9L1192.5 302.4L1194.9 303.0L1197.4 303.5L1199.8 304.1L1202.2 304.7L1204.7 305.3L1207.1 305.9L1209.5 306.6L1211.9 307.3L1214.3 308.0L1216.7 308.8L1219.0 309.6L1221.4 310.4L1223.7 311.3L1226.1 312.2L1228.4 313.1L1230.7 314.0L1233.0 315.0L1235.3 316.1L1237.6 317.1L1239.8 318.2L1242.0 319.3L1244.3 320.5L1246.5 321.7L1248.6 322.9L1250.8 324.1L1252.9 325.4L1255.1 326.7L1257.2 328.1L1259.3 329.5L1261.3 330.9L1263.4 332.3L1265.4 333.8L1267.4 335.2L1269.4 336.7L1271.4 338.3L1273.4 339.8L1275.3 341.4L1277.2 343.0L1279.1 344.7L1281.0 346.3L1282.9 348.0L1284.7 349.6L1286.5 351.3L1288.3 353.1L1290.1 354.8L1291.9 356.6L1293.7 358.3L1295.4 360.1L1297.2 361.9L1298.9 363.7L1300.6 365.6L1302.3 367.4L1304.0 369.3L1305.6 371.1L1307.3 373.0L1308.9 374.9L1310.5 376.8L1312.1 378.8L1313.7 380.7L1315.2 382.6L1316.8 384.6L1318.3 386.6L1319.8 388.6L1321.3 390.6L1322.8 392.6L1324.2 394.6L1325.7 396.7L1327.1 398.7L1328.5 400.8L1329.9 402.9L1331.2 405.0L1332.6 407.1L1333.9 409.2L1335.2 411.4L1336.5 413.5L1337.8 415.6L1339.1 417.8L1340.4 419.9L1341.6 422.1L1342.9 424.2L1344.2 426.4L1345.4 428.6L1346.7 430.7L1347.9 432.9L1349.2 435.0L1350.5 437.2L1351.8 439.3L1353.1 441.5L1354.4 443.6L1355.7 445.7L1357.1 447.8L1358.5 449.9L1359.9 451.9L1361.3 454.0L1362.8 456.0L1364.3 458.0L1365.8 460.0L1367.3 462.0L1368.9 463.9L1370.5 465.9L1372.1 467.8L1373.7 469.7L1375.3 471.6L1377.0 473.4L1378.7 475.3L1380.3 477.2L1382.0 479.0L1383.7 480.8L1385.4 482.7L1387.2 484.5L1388.9 486.2L1390.7 488.0L1392.6 489.7L1394.4 491.3L1396.4 492.9L1398.4 494.4L1400.5 495.8L1402.6 497.1L1404.8 498.2L1407.1 499.3L1409.4 500.1L1411.8 500.9L1414.2 501.5L1416.7 502.1L1419.1 502.5L1421.6 502.9L1424.1 503.3L1426.6 503.6L1429.0 503.9L1431.5 504.1L1434.0 504.3L1436.5 504.5L1439.0 504.7L1441.5 504.8L1444.0 505.0L1446.5 505.1L1449.0 505.2L1451.5 505.3L1454.0 505.4L1456.5 505.5L1459.0 505.5L1461.5 505.6L1464.0 505.6L1466.5 505.7L1469.0 505.7L1471.5 505.8L1474.0 505.8L1476.5 505.8L1479.0 505.8L1481.5 505.9L1484.0 505.9L1486.5 505.9L1489.0 505.9L1491.5 505.9L1494.0 505.9L1496.5 505.9L1499.0 506.0L1501.5 506.0L1504.0 506.0L1506.5 506.0L1509.0 506.0L1511.5 506.0L1514.0 506.0L1516.5 506.0L1519.0 506.0L1521.5 506.0L1524.0 506.0L1526.5 506.0L1529.0 506.0L1531.5 506.0L1534.0 506.0L1536.5 506.0L1539.0 506.0" stroke="#ff8c00" stroke-width="4" stroke-linecap="round"/>
<path d="M943.0 293.3L945.5 293.3L948.0 293.3L950.5 293.3L953.0 293.3L955.5 293.3L958.0 293.3L960.5 293.3L963.0 293.3L965.5 293.3L968.0 293.3L970.5 293.3L973.0 293.3L975.5 293.3L978.0 293.3L980.5 293.3L983.1 293.4L985.6 293.4L988.1 293.4L990.6 293.4L993.1 293.4L995.6 293.4L998.1 293.4L1000.6 293.4L1003.1 293.4L1005.6 293.4L1008.1 293.4L1010.6 293.4L1013.1 293.4L1015.6 293.4L1018.1 293.4L1020.6 293.4L1023.1 293.5L1025.6 293.5L1028.1 293.5L1030.6 293.5L1033.1 293.5L1035.6 293.5L1038.1 293.5L1040.6 293.5L1043.1 293.6L1045.6 293.6L1048.1 293.6L1050.6 293.6L1053.1 293.6L1055.6 293.6L1058.1 293.7L1060.7 293.7L1063.2 293.7L1065.7 293.7L1068.2 293.8L1070.7 293.8L1073.2 293.8L1075.7 293.9L1078.2 293.9L1080.7 293.9L1083.2 294.0L1085.7 294.0L1088.2 294.0L1090.7 294.1L1093.2 294.1L1095.7 294.2L1098.2 294.2L1100.7 294.3L1103.2 294.4L1105.7 294.4L1108.2 294.5L1110.7 294.6L1113.2 294.6L1115.7 294.7L1118.2 294.8L1120.7 294.9L1123.2 295.0L1125.7 295.1L1128.2 295.2L1130.7 295.3L1133.2 295.4L1135.7 295.6L1138.2 295.7L1140.7 295.9L1143.2 296.0L1145.7 296.2L1148.2 296.3L1150.7 296.5L1153.2 296.7L1155.7 296.9L1158.2 297.1L1160.7 297.3L1163.2 297.6L1165.7 297.8L1168.2 298.1L1170.7 298.4L1173.1 298.7L1175.6 299.0L1178.1 299.3L1180.6 299.6L1183.1 300.0L1185.5 300.4L1188.0 300.8L1190.5 301.2L1192.9 301.7L1195.4 302.1L1197.8 302.6L1200.3 303.2L1202.7 303.7L1205.2 304.3L1207.6 304.9L1210.0 305.5L1212.4 306.2L1214.8 306.8L1217.2 307.6L1219.6 308.3L1222.0 309.1L1224.4 309.9L1226.7 310.8L1229.1 311.7L1231.4 312.6L1233.7 313.5L1236.0 314.5L1238.3 315.5L1240.6 316.6L1242.8 317.7L1245.1 318.8L1247.3 320.0L1249.5 321.2L1251.7 322.4L1253.8 323.7L1256.0 324.9L1258.1 326.3L1260.2 327.6L1262.3 329.0L1264.4 330.4L1266.4 331.8L1268.4 333.3L1270.5 334.8L1272.4 336.3L1274.4 337.8L1276.4 339.4L1278.3 341.0L1280.3 342.6L1282.2 344.2L1284.1 345.8L1285.9 347.5L1287.8 349.2L1289.6 350.8L1291.5 352.5L1293.3 354.3L1295.1 356.0L1296.9 357.7L1298.7 359.5L1300.5 361.3L1302.2 363.0L1304.0 364.8L1305.7 366.6L1307.4 368.5L1309.1 370.3L1310.9 372.1L1312.5 374.0L1314.2 375.8L1315.9 377.7L1317.5 379.6L1319.1 381.5L1320.8 383.4L1322.3 385.3L1323.9 387.3L1325.5 389.2L1327.0 391.2L1328.5 393.2L1330.0 395.2L1331.5 397.3L1332.9 399.3L1334.4 401.4L1335.8 403.4L1337.1 405.5L1338.5 407.6L1339.9 409.7L1341.2 411.8L1342.5 414.0L1343.8 416.1L1345.1 418.2L1346.5 420.4L1347.8 422.5L1349.1 424.6L1350.4 426.8L1351.7 428.9L1353.0 431.0L1354.4 433.1L1355.7 435.2L1357.1 437.3L1358.5 439.4L1360.0 441.4L1361.4 443.4L1362.9 445.5L1364.5 447.4L1366.0 449.4L1367.6 451.4L1369.2 453.3L1370.8 455.2L1372.4 457.1L1374.1 458.9L1375.8 460.8L1377.6 462.6L1379.3 464.3L1381.2 466.1L1383.0 467.7L1384.9 469.4L1386.8 471.0L1388.8 472.5L1390.9 473.9L1393.0 475.3L1395.1 476.6L1397.3 477.8L1399.5 478.9L1401.8 479.9L1404.1 480.9L1406.5 481.7L1408.9 482.5L1411.3 483.2L1413.7 483.8L1416.2 484.4L1418.6 484.9L1421.1 485.3L1423.5 485.7L1426.0 486.0L1428.5 486.3L1431.0 486.5L1433.5 486.8L1436.0 487.0L1438.5 487.1L1441.0 487.3L1443.5 487.4L1446.0 487.5L1448.5 487.6L1451.0 487.7L1453.5 487.8L1456.0 487.8" stroke="#bc8f8f" stroke-width="4.5" stroke-linecap="round"/>
<path d="M943.0 292.0L945.5 292.2L948.0 292.3L950.5 292.4L953.0 292.5L955.5 292.6L958.0 292.7L960.5 292.8L963.0 292.9L965.6 293.0L968.1 293.1L970.6 293.2L973.1 293.2L975.6 293.3L978.1 293.4L980.6 293.4L983.1 293.5L985.6 293.6L988.1 293.6L990.6 293.7L993.1 293.7L995.7 293.7L998.2 293.8L1000.7 293.8L1003.2 293.9L1005.7 293.9L1008.2 293.9L1010.7 293.9L1013.2 294.0L1015.7 294.0L1018.2 294.0L1020.7 294.0L1023.2 294.1L1025.8 294.1L1028.3 294.1L1030.8 294.1L1033.3 294.1L1035.8 294.2L1038.3 294.2L1040.8 294.2L1043.3 294.2L1045.8 294.2L1048.3 294.2L1050.8 294.2L1053.3 294.3L1055.9 294.3L1058.4 294.3L1060.9 294.3L1063.4 294.3L1065.9 294.3L1068.4 294.3L1070.9 294.4L1073.4 294.4L1075.9 294.4L1078.4 294.4L1080.9 294.4L1083.4 294.5L1086.0 294.5L1088.5 294.5L1091.0 294.5L1093.5 294.5L1096.0 294.6L1098.5 294.6L1101.0 294.6L1103.5 294.6L1106.0 294.7L1108.5 294.7L1111.0 294.7L1113.6 294.8L1116.1 294.8L1118.6 294.8L1121.1 294.9L1123.6 294.9L1126.1 295.0L1128.6 295.0L1131.1 295.1L1133.6 295.1L1136.1 295.2L1138.6 295.2L1141.1 295.3L1143.6 295.4L1146.2 295.4L1148.7 295.5L1151.2 295.6L1153.7 295.6L1156.2 295.7L1158.7 295.8L1161.2 295.9L1163.7 296.0L1166.2 296.1L1168.7 296.2L1171.2 296.3L1173.7 296.4L1176.2 296.5L1178.7 296.7L1181.3 296.8L1183.8 296.9L1186.3 297.1L1188.8 297.2L1191.3 297.4L1193.8 297.5L1196.3 297.7L1198.8 297.9L1201.3 298.1L1203.8 298.3L1206.3 298.5L1208.8 298.7L1211.3 298.9L1213.8 299.2L1216.3 299.4L1218.8 299.7L1221.3 299.9L1223.8 300.2L1226.2 300.5L1228.7 300.8L1231.2 301.1L1233.7 301.4L1236.2 301.8L1238.7 302.1L1241.2 302.5L1243.6 302.9L1246.1 303.3L1248.6 303.7L1251.1 304.1L1253.5 304.5L1256.0 305.0L1258.5 305.5L1260.9 305.9L1263.4 306.4L1265.8 307.0L1268.3 307.5L1270.7 308.1L1273.2 308.7L1275.6 309.3L1278.0 309.9L1280.4 310.6L1282.8 311.3L1285.2 312.1L1287.6 312.9L1290.0 313.7L1292.4 314.5L1294.8 315.3L1297.1 316.0L1299.5 316.8L1301.9 317.5L1304.4 318.2L1306.8 318.9L1309.2 319.5L1311.6 320.1L1314.1 320.8L1316.5 321.4L1318.9 322.0L1321.4 322.6L1323.8 323.2L1326.2 323.7L1328.7 324.3L1331.1 324.9L1333.6 325.4L1336.0 325.9L1338.5 326.4L1341.0 326.9L1343.4 327.4L1345.9 327.8L1348.4 328.3L1350.8 328.7L1353.3 329.0L1355.8 329.4L1358.3 329.7L1360.8 330.0L1363.3 330.3L1365.8 330.6L1368.3 330.9L1370.7 331.1L1373.2 331.3L1375.8 331.5L1378.3 331.7L1380.8 331.8L1383.3 331.9L1385.8 332.1L1388.3 332.2L1390.8 332.3L1393.3 332.4L1395.8 332.4L1398.3 332.5L1400.8 332.6L1403.3 332.6L1405.8 332.6L1408.3 332.7L1410.8 332.7L1413.4 332.7L1415.9 332.8L1418.4 332.8L1420.9 332.8L1423.4 332.8L1425.9 332.8L1428.4 332.8L1430.9 332.8L1433.4 332.8L1435.9 332.8L1438.4 332.8L1440.9 332.8L1443.5 332.8L1446.0 332.8L1448.5 332.9L1451.0 332.9L1453.5 332.9L1456.0 332.9" stroke="#ff0000" stroke-width="4" stroke-linecap="round"/>
<path d="M943.0 292.9L945.5 292.9L948.0 292.9L950.5 292.9L953.0 293.0L955.6 293.0L958.1 293.0L960.6 293.0L963.1 293.0L965.6 293.0L968.1 293.0L970.6 293.0L973.1 293.0L975.6 293.0L978.1 293.0L980.7 293.0L983.2 293.0L985.7 293.0L988.2 293.0L990.7 293.0L993.2 293.0L995.7 293.0L998.2 293.0L1000.7 293.0L1003.2 293.0L1005.8 293.0L1008.3 293.0L1010.8 293.0L1013.3 293.0L1015.8 293.0L1018.3 293.0L1020.8 293.0L1023.3 293.0L1025.8 293.0L1028.3 293.0L1030.9 293.0L1033.4 293.0L1035.9 293.0L1038.4 293.0L1040.9 293.0L1043.4 293.0L1045.9 293.0L1048.4 293.0L1050.9 293.0L1053.4 293.0L1056.0 293.0L1058.5 293.0L1061.0 293.0L1063.5 293.0L1066.0 293.0L1068.5 293.0L1071.0 293.0L1073.5 293.0L1076.0 293.0L1078.5 293.0L1081.1 293.0L1083.6 293.0L1086.1 293.0L1088.6 293.1L1091.1 293.1L1093.6 293.1L1096.1 293.1L1098.6 293.1L1101.1 293.1L1103.6 293.1L1106.2 293.1L1108.7 293.1L1111.2 293.1L1113.7 293.2L1116.2 293.2L1118.7 293.2L1121.2 293.2L1123.7 293.2L1126.2 293.2L1128.7 293.3L1131.3 293.3L1133.8 293.3L1136.3 293.3L1138.8 293.3L1141.3 293.4L1143.8 293.4L1146.3 293.4L1148.8 293.5L1151.3 293.5L1153.8 293.5L1156.3 293.6L1158.9 293.6L1161.4 293.7L1163.9 293.7L1166.4 293.8L1168.9 293.8L1171.4 293.9L1173.9 293.9L1176.4 294.0L1178.9 294.1L1181.4 294.1L1184.0 294.2L1186.5 294.3L1189.0 294.4L1191.5 294.5L1194.0 294.6L1196.5 294.7L1199.0 294.8L1201.5 294.9L1204.0 295.1L1206.5 295.2L1209.0 295.4L1211.5 295.6L1214.0 295.8L1216.5 296.0L1219.0 296.2L1221.5 296.4L1224.0 296.7L1226.5 297.0L1229.0 297.2L1231.5 297.5L1234.0 297.8L1236.5 298.1L1239.0 298.3L1241.5 298.6L1244.0 298.9L1246.5 299.2L1249.0 299.5L1251.5 299.8L1253.9 300.2L1256.4 300.5L1258.9 300.9L1261.4 301.3L1263.9 301.7L1266.3 302.1L1268.8 302.5L1271.3 302.9L1273.8 303.4L1276.2 303.8L1278.7 304.3L1281.2 304.7L1283.6 305.2L1286.1 305.7L1288.6 306.2L1291.0 306.7L1293.5 307.2L1295.9 307.6L1298.4 308.1L1300.9 308.6L1303.3 309.1L1305.8 309.6L1308.3 310.0L1310.7 310.5L1313.2 310.9L1315.7 311.3L1318.2 311.7L1320.6 312.1L1323.1 312.5L1325.6 312.8L1328.1 313.2L1330.6 313.5L1333.1 313.8L1335.6 314.0L1338.1 314.3L1340.6 314.5L1343.1 314.7L1345.6 314.9L1348.1 315.1L1350.6 315.2L1353.1 315.4L1355.6 315.5L1358.1 315.6L1360.6 315.7L1363.1 315.7L1365.6 315.8L1368.2 315.9L1370.7 315.9L1373.2 315.9L1375.7 316.0L1378.2 316.0L1380.7 316.0L1383.2 316.0L1385.7 316.1L1388.2 316.1L1390.7 316.1L1393.2 316.1L1395.8 316.1L1398.3 316.1L1400.8 316.1L1403.3 316.1L1405.8 316.1L1408.3 316.1L1410.8 316.1L1413.3 316.1L1415.8 316.1L1418.3 316.1L1420.9 316.1L1423.4 316.1L1425.9 316.1L1428.4 316.1L1430.9 316.1L1433.4 316.1L1435.9 316.1L1438.4 316.1L1440.9 316.1L1443.4 316.1L1446.0 316.1L1448.5 316.1L1451.0 316.1L1453.5 316.1L1456.0 316.1" stroke="#0000ff" stroke-width="4" stroke-linecap="round"/>
<path d="M943.0 294.0L945.5 294.2L948.0 294.4L950.5 294.6L953.0 294.9L955.5 295.1L958.0 295.3L960.5 295.5L963.0 295.8L965.5 296.0L968.0 296.2L970.5 296.4L973.0 296.5L975.5 296.7L978.0 296.9L980.5 297.0L983.0 297.1L985.5 297.3L988.0 297.4L990.5 297.4L993.0 297.5L995.5 297.5L998.0 297.6L1000.5 297.6L1003.0 297.6L1005.5 297.5L1008.0 297.5L1010.5 297.4L1013.0 297.3L1015.5 297.2L1018.0 297.0L1020.5 296.8L1023.0 296.6L1025.5 296.4L1028.0 296.2L1030.5 296.0L1033.0 295.7L1035.5 295.5L1038.0 295.2L1040.5 295.0L1043.0 294.9L1045.5 294.7L1048.0 294.6L1050.5 294.5L1053.0 294.4L1055.5 294.4L1058.0 294.4L1060.5 294.4L1063.0 294.5L1065.5 294.5L1068.0 294.6L1070.5 294.6L1073.0 294.7L1075.5 294.8L1078.0 294.9L1080.5 294.9L1083.0 295.0L1085.5 295.1L1088.0 295.2L1090.5 295.3L1093.0 295.4L1095.5 295.5L1098.0 295.7L1100.5 295.8L1103.0 295.9L1105.5 296.1L1108.0 296.2L1110.5 296.4L1113.0 296.5L1115.5 296.7L1118.0 296.9L1120.5 297.0L1123.0 297.2L1125.5 297.4L1128.0 297.7L1130.5 297.9L1133.0 298.1L1135.5 298.4L1138.0 298.6L1140.5 298.9L1143.0 299.2L1145.5 299.5L1148.0 299.8L1150.4 300.2L1152.9 300.5L1155.4 300.9L1157.9 301.3L1160.3 301.7L1162.8 302.1L1165.3 302.5L1167.7 303.0L1170.2 303.5L1172.6 304.0L1175.1 304.5L1177.5 305.1L1180.0 305.7L1182.4 306.3L1184.8 306.9L1187.2 307.6L1189.6 308.3L1192.0 309.0L1194.4 309.8L1196.8 310.6L1199.2 311.4L1201.5 312.3L1203.9 313.1L1206.2 314.1L1208.5 315.0L1210.8 316.0L1213.1 317.0L1215.4 318.1L1217.6 319.2L1219.8 320.3L1222.1 321.5L1224.3 322.7L1226.4 323.9L1228.6 325.2L1230.7 326.5L1232.8 327.9L1234.9 329.3L1237.0 330.7L1239.0 332.1L1241.0 333.6L1243.0 335.1L1245.0 336.7L1246.9 338.3L1248.9 339.9L1250.8 341.5L1252.6 343.2L1254.5 344.9L1256.3 346.6L1258.1 348.4L1259.9 350.1L1261.6 351.9L1263.3 353.8L1265.0 355.6L1266.7 357.5L1268.3 359.4L1269.9 361.3L1271.5 363.2L1273.1 365.1L1274.7 367.1L1276.2 369.1L1277.7 371.1L1279.2 373.1L1280.7 375.1L1282.1 377.2L1283.5 379.2L1284.9 381.3L1286.3 383.4L1287.7 385.5L1289.0 387.6L1290.4 389.7L1291.7 391.9L1293.0 394.0L1294.2 396.2L1295.5 398.4L1296.7 400.5L1298.0 402.7L1299.2 404.9L1300.4 407.1L1301.5 409.3L1302.7 411.5L1303.9 413.8L1305.0 416.0L1306.1 418.2L1307.2 420.5L1308.3 422.7L1309.4 425.0L1310.5 427.3L1311.5 429.5L1312.6 431.8L1313.6 434.1L1314.7 436.4L1315.7 438.6L1316.7 440.9L1317.7 443.2L1318.7 445.5L1319.7 447.8L1320.6 450.1L1321.6 452.5L1322.6 454.8L1323.5 457.1L1324.5 459.4L1325.4 461.7L1326.3 464.1L1327.2 466.4L1328.2 468.7L1329.1 471.1L1330.0 473.4L1330.9 475.7L1331.8 478.1L1332.7 480.4L1333.6 482.7L1334.4 485.1L1335.3 487.4L1336.2 489.8L1337.1 492.1L1337.9 494.5L1338.8 496.8L1339.7 499.2L1340.5 501.5L1341.4 503.9L1342.3 506.2L1343.1 508.6L1344.0 511.0L1344.8 513.3L1345.7 515.7L1346.5 518.0L1347.4 520.4L1348.2 522.7L1349.1 525.1L1349.9 527.4L1350.8 529.8L1351.6 532.2L1352.5 534.5L1353.3 536.9L1354.2 539.2L1355.0 541.6L1355.9 543.9L1356.8 546.3L1357.6 548.6L1358.5 551.0L1359.3 553.3L1360.2 555.7L1361.1 558.0L1361.9 560.4L1362.8 562.7L1363.7 565.1L1364.6 567.4L1365.5 569.8L1366.4 572.1L1367.2 574.5L1368.1 576.8L1369.0 579.1L1369.9 581.5L1370.9 583.8L1371.8 586.1L1372.7 588.5L1373.6 590.8L1374.5 593.1L1375.5 595.4L1376.4 597.8L1377.4 600.1L1378.3 602.4L1379.3 604.7L1380.3 607.0L1381.3 609.3L1382.3 611.6L1383.3 613.9L1384.3 616.2L1385.3 618.5L1386.3 620.8L1387.4 623.1L1388.4 625.3L1389.5 627.6L1390.6 629.8L1391.7 632.1L1392.8 634.3L1393.9 636.6L1395.1 638.8L1396.2 641.0L1397.4 643.2L1398.7 645.4L1399.9 647.6L1401.2 649.7L1402.5 651.9L1403.8 654.0L1405.2 656.1L1406.6 658.2L1408.0 660.2L1409.5 662.2L1411.1 664.2L1412.6 666.1L1414.3 668.0L1416.0 669.9L1417.8 671.6L1419.6 673.3L1421.5 675.0L1423.5 676.5L1425.5 678.0L1427.6 679.3L1429.8 680.5L1432.0 681.7L1434.3 682.7L1436.7 683.5L1439.1 684.3L1441.5 685.0L1443.9 685.5L1446.4 686.0L1448.9 686.4L1451.4 686.7L1453.9 686.9L1456.3 687.1L1458.8 687.3L1461.3 687.4L1463.9 687.5L1466.4 687.6L1468.9 687.6L1471.4 687.7L1473.9 687.7L1476.4 687.7L1478.9 687.7L1481.4 687.7L1483.9 687.8L1486.4 687.8L1488.9 687.8L1491.4 687.8L1493.9 687.8L1496.4 687.8L1498.9 687.8L1501.4 687.8L1503.9 687.8L1506.4 687.8L1508.9 687.8L1511.4 687.8L1513.9 687.8L1516.5 687.8L1519.0 687.8L1521.5 687.8L1524.0 687.8L1526.5 687.8L1529.0 687.8L1531.5 687.8L1534.0 687.8L1536.5 687.8L1539.0 687.8" stroke="#00ffff" stroke-width="5" stroke-linecap="round"/>
</g>
<rect x="943" y="291" width="596" height="664" fill="none" stroke="#000" stroke-width="2"/>
<text transform="translate(911.5 971.2) scale(0.92 1)" font-size="52.5" text-anchor="end" font-family="Liberation Serif, Times New Roman, serif">0</text>
<text transform="translate(911.5 838.4) scale(0.92 1)" font-size="52.5" text-anchor="end" font-family="Liberation Serif, Times New Roman, serif">0.2</text>
<text transform="translate(911.5 705.6) scale(0.92 1)" font-size="52.5" text-anchor="end" font-family="Liberation Serif, Times New Roman, serif">0.4</text>
<text transform="translate(911.5 572.8) scale(0.92 1)" font-size="52.5" text-anchor="end" font-family="Liberation Serif, Times New Roman, serif">0.6</text>
<text transform="translate(911.5 440.0) scale(0.92 1)" font-size="52.5" text-anchor="end" font-family="Liberation Serif, Times New Roman, serif">0.8</text>
<text transform="translate(910.6 308.7) scale(0.81 1)" font-size="52.5" text-anchor="end" font-family="Liberation Serif, Times New Roman, serif">1</text>
<text x="892.1" y="1013.2" font-size="51" font-family="Liberation Serif, Times New Roman, serif">10</text><text x="940" y="983.9" font-size="30" font-family="Liberation Serif, Times New Roman, serif">−1</text>
<text x="1144.8" y="1013.2" font-size="51" font-family="Liberation Serif, Times New Roman, serif">10</text><text x="1193.8" y="983.9" font-size="30" font-family="Liberation Serif, Times New Roman, serif">1</text>
<text x="1384.5" y="1013.2" font-size="51" font-family="Liberation Serif, Times New Roman, serif">10</text><text x="1433.5" y="983.9" font-size="30" font-family="Liberation Serif, Times New Roman, serif">3</text>
<text x="1241.7" y="1079.3" font-size="59" text-anchor="middle" font-family="Liberation Serif, Times New Roman, serif">t</text>
<text transform="translate(817 670.7) rotate(-90)" font-size="59" font-family="Liberation Serif, Times New Roman, serif">R(t)</text>
</svg></body></html>
